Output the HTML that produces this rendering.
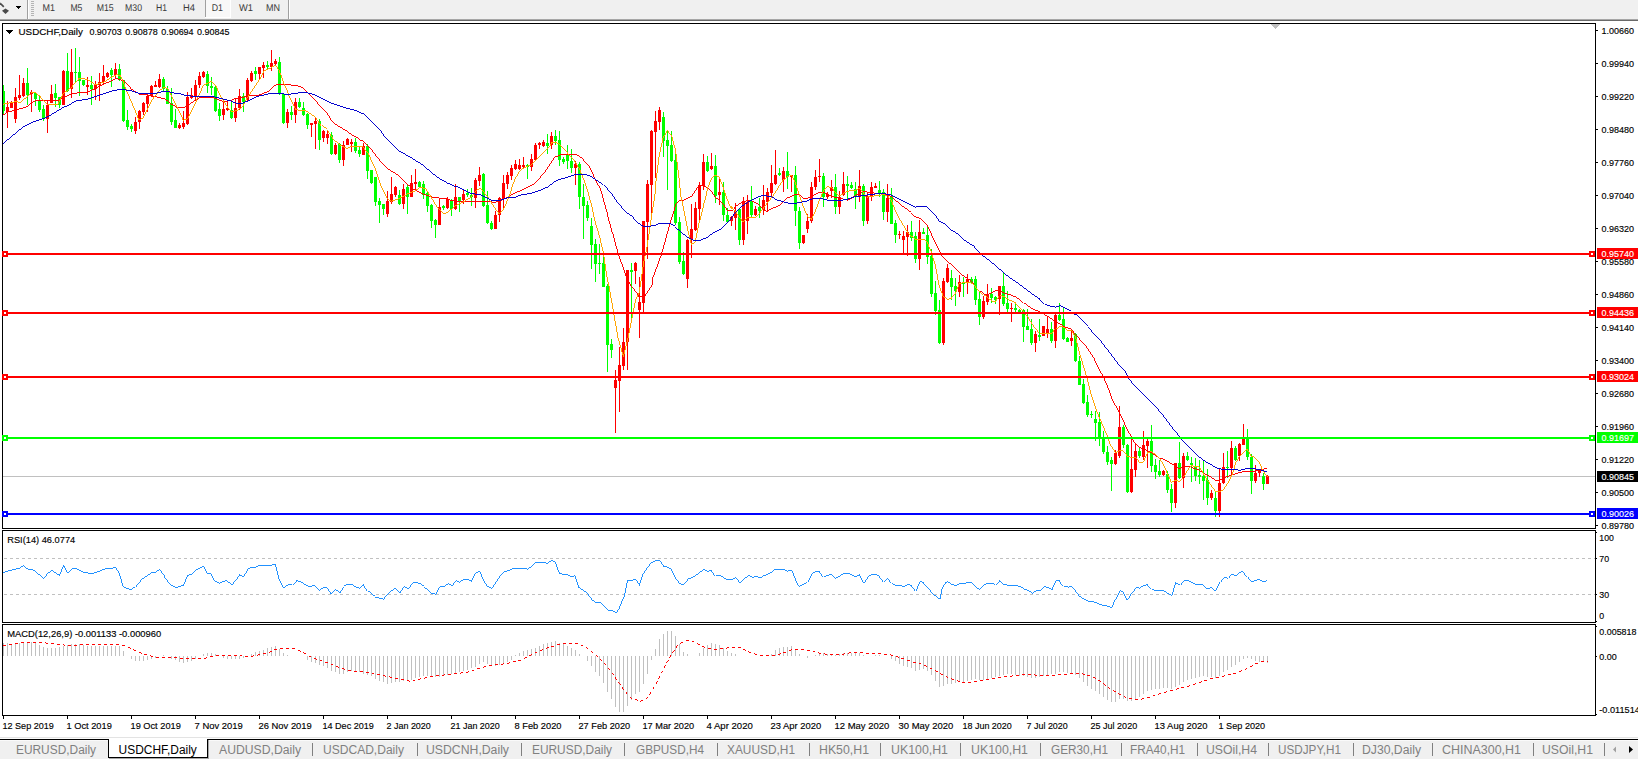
<!DOCTYPE html><html><head><meta charset="utf-8"><title>USDCHF,Daily</title><style>html,body{margin:0;padding:0;background:#fff;overflow:hidden}body{width:1638px;height:759px;position:relative;font-family:"Liberation Sans",sans-serif}</style></head><body><svg width="1638" height="759" viewBox="0 0 1638 759" shape-rendering="crispEdges" font-family="Liberation Sans, sans-serif" style="position:absolute;left:0;top:0">
<rect x="0" y="0" width="1638" height="759" fill="#f0f0f0"/>
<rect x="0" y="21" width="1638" height="717" fill="#ffffff"/>
<rect x="0" y="19" width="1639" height="1" fill="#a6a6a6"/>
<rect x="0" y="20" width="1639" height="1" fill="#696969"/>
<g shape-rendering="auto"><path d="M0 3.2 L3.8 6.8" stroke="#4a4a4a" stroke-width="1.7" fill="none"/><path d="M5.5 8.6 L9 10.8 L5.5 14 L2 10.8 Z" fill="#4a4a4a"/></g>
<rect x="16" y="6" width="5" height="1" fill="#000"/>
<rect x="17" y="7" width="3" height="1" fill="#000"/>
<rect x="18" y="8" width="1" height="1" fill="#000"/>
<rect x="27" y="0" width="1" height="19" fill="#a0a0a0"/>
<rect x="28" y="0" width="1" height="19" fill="#ffffff"/>
<rect x="31" y="1" width="3" height="1" fill="#b4b4b4"/>
<rect x="31" y="3" width="3" height="1" fill="#b4b4b4"/>
<rect x="31" y="5" width="3" height="1" fill="#b4b4b4"/>
<rect x="31" y="7" width="3" height="1" fill="#b4b4b4"/>
<rect x="31" y="9" width="3" height="1" fill="#b4b4b4"/>
<rect x="31" y="11" width="3" height="1" fill="#b4b4b4"/>
<rect x="31" y="13" width="3" height="1" fill="#b4b4b4"/>
<rect x="31" y="15" width="3" height="1" fill="#b4b4b4"/>
<rect x="205" y="0" width="26" height="17" fill="#f8f8f8"/>
<rect x="205" y="0" width="1" height="17" fill="#a0a0a0"/>
<rect x="205" y="17" width="26" height="1" fill="#ffffff"/>
<rect x="230" y="0" width="1" height="18" fill="#ffffff"/>
<rect x="288" y="0" width="1" height="19" fill="#a0a0a0"/>
<rect x="289" y="0" width="1" height="19" fill="#ffffff"/>
<g shape-rendering="auto" text-rendering="geometricPrecision">
<text x="42.5" y="11.0" font-size="9.8" fill="#3a3a3a" stroke="#3a3a3a" stroke-width="0" textLength="12.5" lengthAdjust="spacingAndGlyphs">M1</text>
<text x="70.4" y="11.0" font-size="9.8" fill="#3a3a3a" stroke="#3a3a3a" stroke-width="0" textLength="12.0" lengthAdjust="spacingAndGlyphs">M5</text>
<text x="96.7" y="11.0" font-size="9.8" fill="#3a3a3a" stroke="#3a3a3a" stroke-width="0" textLength="17.0" lengthAdjust="spacingAndGlyphs">M15</text>
<text x="125" y="11.0" font-size="9.8" fill="#3a3a3a" stroke="#3a3a3a" stroke-width="0" textLength="17.0" lengthAdjust="spacingAndGlyphs">M30</text>
<text x="156" y="11.0" font-size="9.8" fill="#3a3a3a" stroke="#3a3a3a" stroke-width="0" textLength="11.0" lengthAdjust="spacingAndGlyphs">H1</text>
<text x="183" y="11.0" font-size="9.8" fill="#3a3a3a" stroke="#3a3a3a" stroke-width="0" textLength="12.0" lengthAdjust="spacingAndGlyphs">H4</text>
<text x="211.7" y="11.0" font-size="9.8" fill="#3a3a3a" stroke="#3a3a3a" stroke-width="0" textLength="11.3" lengthAdjust="spacingAndGlyphs">D1</text>
<text x="239" y="11.0" font-size="9.8" fill="#3a3a3a" stroke="#3a3a3a" stroke-width="0" textLength="14.0" lengthAdjust="spacingAndGlyphs">W1</text>
<text x="266" y="11.0" font-size="9.8" fill="#3a3a3a" stroke="#3a3a3a" stroke-width="0" textLength="14.0" lengthAdjust="spacingAndGlyphs">MN</text>
</g>
<rect x="2" y="23" width="1" height="506" fill="#000"/>
<rect x="2" y="530" width="1" height="93" fill="#000"/>
<rect x="2" y="624" width="1" height="92" fill="#000"/>
<rect x="2" y="23" width="1594" height="1" fill="#000"/>
<rect x="1595" y="23" width="1" height="506" fill="#000"/>
<rect x="1595" y="530" width="1" height="93" fill="#000"/>
<rect x="1595" y="624" width="1" height="92" fill="#000"/>
<rect x="2" y="528" width="1594" height="1" fill="#000"/>
<rect x="2" y="530" width="1594" height="1" fill="#000"/>
<rect x="2" y="622" width="1594" height="1" fill="#000"/>
<rect x="2" y="624" width="1594" height="1" fill="#000"/>
<rect x="2" y="715" width="1594" height="1" fill="#000"/>
<rect x="1596" y="532" width="1" height="1" fill="#000"/>
<rect x="1596" y="558" width="1" height="1" fill="#000"/>
<rect x="1596" y="594" width="1" height="1" fill="#000"/>
<rect x="1596" y="621" width="1" height="1" fill="#000"/>
<rect x="1596" y="626" width="1" height="1" fill="#000"/>
<rect x="1596" y="656" width="1" height="1" fill="#000"/>
<rect x="1596" y="714" width="1" height="1" fill="#000"/>
<rect x="1271" y="24" width="9" height="1" fill="#c0c0c0"/>
<rect x="1272" y="25" width="7" height="1" fill="#c0c0c0"/>
<rect x="1273" y="26" width="5" height="1" fill="#c0c0c0"/>
<rect x="1274" y="27" width="3" height="1" fill="#c0c0c0"/>
<rect x="1275" y="28" width="1" height="1" fill="#c0c0c0"/>
<g shape-rendering="auto">
<rect x="1596" y="30" width="2" height="1" fill="#000"/>
<text x="1601.5" y="34.0" font-size="9.8" fill="#000" stroke="#000" stroke-width="0.15" textLength="32.5" lengthAdjust="spacingAndGlyphs">1.00660</text>
<rect x="1596" y="63" width="2" height="1" fill="#000"/>
<text x="1601.5" y="67.0" font-size="9.8" fill="#000" stroke="#000" stroke-width="0.15" textLength="32.5" lengthAdjust="spacingAndGlyphs">0.99940</text>
<rect x="1596" y="96" width="2" height="1" fill="#000"/>
<text x="1601.5" y="100.0" font-size="9.8" fill="#000" stroke="#000" stroke-width="0.15" textLength="32.5" lengthAdjust="spacingAndGlyphs">0.99220</text>
<rect x="1596" y="129" width="2" height="1" fill="#000"/>
<text x="1601.5" y="133.0" font-size="9.8" fill="#000" stroke="#000" stroke-width="0.15" textLength="32.5" lengthAdjust="spacingAndGlyphs">0.98480</text>
<rect x="1596" y="162" width="2" height="1" fill="#000"/>
<text x="1601.5" y="166.0" font-size="9.8" fill="#000" stroke="#000" stroke-width="0.15" textLength="32.5" lengthAdjust="spacingAndGlyphs">0.97760</text>
<rect x="1596" y="195" width="2" height="1" fill="#000"/>
<text x="1601.5" y="199.0" font-size="9.8" fill="#000" stroke="#000" stroke-width="0.15" textLength="32.5" lengthAdjust="spacingAndGlyphs">0.97040</text>
<rect x="1596" y="228" width="2" height="1" fill="#000"/>
<text x="1601.5" y="232.0" font-size="9.8" fill="#000" stroke="#000" stroke-width="0.15" textLength="32.5" lengthAdjust="spacingAndGlyphs">0.96320</text>
<rect x="1596" y="261" width="2" height="1" fill="#000"/>
<text x="1601.5" y="265.0" font-size="9.8" fill="#000" stroke="#000" stroke-width="0.15" textLength="32.5" lengthAdjust="spacingAndGlyphs">0.95580</text>
<rect x="1596" y="294" width="2" height="1" fill="#000"/>
<text x="1601.5" y="298.0" font-size="9.8" fill="#000" stroke="#000" stroke-width="0.15" textLength="32.5" lengthAdjust="spacingAndGlyphs">0.94860</text>
<rect x="1596" y="327" width="2" height="1" fill="#000"/>
<text x="1601.5" y="331.0" font-size="9.8" fill="#000" stroke="#000" stroke-width="0.15" textLength="32.5" lengthAdjust="spacingAndGlyphs">0.94140</text>
<rect x="1596" y="360" width="2" height="1" fill="#000"/>
<text x="1601.5" y="364.0" font-size="9.8" fill="#000" stroke="#000" stroke-width="0.15" textLength="32.5" lengthAdjust="spacingAndGlyphs">0.93400</text>
<rect x="1596" y="393" width="2" height="1" fill="#000"/>
<text x="1601.5" y="397.0" font-size="9.8" fill="#000" stroke="#000" stroke-width="0.15" textLength="32.5" lengthAdjust="spacingAndGlyphs">0.92680</text>
<rect x="1596" y="426" width="2" height="1" fill="#000"/>
<text x="1601.5" y="430.0" font-size="9.8" fill="#000" stroke="#000" stroke-width="0.15" textLength="32.5" lengthAdjust="spacingAndGlyphs">0.91960</text>
<rect x="1596" y="459" width="2" height="1" fill="#000"/>
<text x="1601.5" y="463.0" font-size="9.8" fill="#000" stroke="#000" stroke-width="0.15" textLength="32.5" lengthAdjust="spacingAndGlyphs">0.91220</text>
<rect x="1596" y="492" width="2" height="1" fill="#000"/>
<text x="1601.5" y="496.0" font-size="9.8" fill="#000" stroke="#000" stroke-width="0.15" textLength="32.5" lengthAdjust="spacingAndGlyphs">0.90500</text>
<rect x="1596" y="525" width="2" height="1" fill="#000"/>
<text x="1601.5" y="529.0" font-size="9.8" fill="#000" stroke="#000" stroke-width="0.15" textLength="32.5" lengthAdjust="spacingAndGlyphs">0.89780</text>
</g>
<rect x="3" y="476" width="1592" height="1" fill="#c0c0c0"/>
<rect x="3" y="85" width="1" height="30" fill="#00ff00"/>
<rect x="3" y="91" width="2" height="20" fill="#00ff00"/>
<rect x="7" y="101" width="1" height="27" fill="#ff0000"/>
<rect x="6" y="107" width="3" height="5" fill="#ff0000"/>
<rect x="11" y="101" width="1" height="7" fill="#ff0000"/>
<rect x="10" y="103" width="3" height="5" fill="#ff0000"/>
<rect x="15" y="88" width="1" height="35" fill="#ff0000"/>
<rect x="14" y="97" width="3" height="22" fill="#ff0000"/>
<rect x="19" y="75" width="1" height="25" fill="#ff0000"/>
<rect x="18" y="95" width="3" height="3" fill="#ff0000"/>
<rect x="23" y="78" width="1" height="19" fill="#ff0000"/>
<rect x="22" y="83" width="3" height="13" fill="#ff0000"/>
<rect x="27" y="68" width="1" height="37" fill="#00ff00"/>
<rect x="26" y="83" width="3" height="12" fill="#00ff00"/>
<rect x="31" y="90" width="1" height="22" fill="#ff0000"/>
<rect x="30" y="92" width="3" height="2" fill="#ff0000"/>
<rect x="35" y="92" width="1" height="14" fill="#00ff00"/>
<rect x="34" y="93" width="3" height="6" fill="#00ff00"/>
<rect x="39" y="96" width="1" height="16" fill="#00ff00"/>
<rect x="38" y="100" width="3" height="10" fill="#00ff00"/>
<rect x="43" y="105" width="1" height="16" fill="#00ff00"/>
<rect x="42" y="109" width="3" height="9" fill="#00ff00"/>
<rect x="47" y="101" width="1" height="32" fill="#ff0000"/>
<rect x="46" y="105" width="3" height="14" fill="#ff0000"/>
<rect x="51" y="85" width="1" height="18" fill="#ff0000"/>
<rect x="50" y="94" width="3" height="9" fill="#ff0000"/>
<rect x="55" y="84" width="1" height="23" fill="#00ff00"/>
<rect x="54" y="93" width="3" height="5" fill="#00ff00"/>
<rect x="59" y="97" width="1" height="11" fill="#00ff00"/>
<rect x="58" y="97" width="3" height="8" fill="#00ff00"/>
<rect x="63" y="70" width="1" height="35" fill="#ff0000"/>
<rect x="62" y="71" width="3" height="34" fill="#ff0000"/>
<rect x="67" y="53" width="1" height="39" fill="#00ff00"/>
<rect x="66" y="71" width="3" height="20" fill="#00ff00"/>
<rect x="71" y="49" width="1" height="49" fill="#ff0000"/>
<rect x="70" y="72" width="3" height="17" fill="#ff0000"/>
<rect x="75" y="48" width="1" height="34" fill="#00ff00"/>
<rect x="74" y="72" width="3" height="1" fill="#00ff00"/>
<rect x="79" y="57" width="1" height="39" fill="#00ff00"/>
<rect x="78" y="72" width="3" height="9" fill="#00ff00"/>
<rect x="83" y="80" width="1" height="6" fill="#00ff00"/>
<rect x="82" y="80" width="3" height="5" fill="#00ff00"/>
<rect x="87" y="77" width="1" height="18" fill="#ff0000"/>
<rect x="86" y="85" width="3" height="2" fill="#ff0000"/>
<rect x="91" y="76" width="1" height="29" fill="#00ff00"/>
<rect x="90" y="85" width="3" height="4" fill="#00ff00"/>
<rect x="95" y="81" width="1" height="19" fill="#ff0000"/>
<rect x="94" y="84" width="3" height="5" fill="#ff0000"/>
<rect x="99" y="73" width="1" height="28" fill="#ff0000"/>
<rect x="98" y="82" width="3" height="3" fill="#ff0000"/>
<rect x="103" y="65" width="1" height="19" fill="#ff0000"/>
<rect x="102" y="76" width="3" height="6" fill="#ff0000"/>
<rect x="107" y="72" width="1" height="6" fill="#ff0000"/>
<rect x="106" y="73" width="3" height="4" fill="#ff0000"/>
<rect x="111" y="68" width="1" height="19" fill="#00ff00"/>
<rect x="110" y="70" width="3" height="5" fill="#00ff00"/>
<rect x="115" y="63" width="1" height="16" fill="#ff0000"/>
<rect x="114" y="69" width="3" height="6" fill="#ff0000"/>
<rect x="119" y="64" width="1" height="17" fill="#00ff00"/>
<rect x="118" y="69" width="3" height="11" fill="#00ff00"/>
<rect x="123" y="80" width="1" height="42" fill="#00ff00"/>
<rect x="122" y="80" width="3" height="41" fill="#00ff00"/>
<rect x="127" y="110" width="1" height="20" fill="#00ff00"/>
<rect x="126" y="120" width="3" height="7" fill="#00ff00"/>
<rect x="131" y="124" width="1" height="8" fill="#00ff00"/>
<rect x="130" y="126" width="3" height="3" fill="#00ff00"/>
<rect x="135" y="117" width="1" height="17" fill="#ff0000"/>
<rect x="134" y="122" width="3" height="9" fill="#ff0000"/>
<rect x="139" y="110" width="1" height="19" fill="#ff0000"/>
<rect x="138" y="111" width="3" height="11" fill="#ff0000"/>
<rect x="143" y="102" width="1" height="13" fill="#ff0000"/>
<rect x="142" y="103" width="3" height="9" fill="#ff0000"/>
<rect x="147" y="94" width="1" height="18" fill="#ff0000"/>
<rect x="146" y="96" width="3" height="8" fill="#ff0000"/>
<rect x="151" y="85" width="1" height="12" fill="#ff0000"/>
<rect x="150" y="86" width="3" height="10" fill="#ff0000"/>
<rect x="155" y="81" width="1" height="6" fill="#ff0000"/>
<rect x="154" y="85" width="3" height="2" fill="#ff0000"/>
<rect x="159" y="74" width="1" height="14" fill="#ff0000"/>
<rect x="158" y="79" width="3" height="8" fill="#ff0000"/>
<rect x="163" y="77" width="1" height="14" fill="#00ff00"/>
<rect x="162" y="79" width="3" height="10" fill="#00ff00"/>
<rect x="167" y="86" width="1" height="18" fill="#00ff00"/>
<rect x="166" y="89" width="3" height="15" fill="#00ff00"/>
<rect x="171" y="88" width="1" height="37" fill="#00ff00"/>
<rect x="170" y="103" width="3" height="19" fill="#00ff00"/>
<rect x="175" y="109" width="1" height="19" fill="#00ff00"/>
<rect x="174" y="120" width="3" height="8" fill="#00ff00"/>
<rect x="179" y="123" width="1" height="6" fill="#ff0000"/>
<rect x="178" y="125" width="3" height="3" fill="#ff0000"/>
<rect x="183" y="111" width="1" height="18" fill="#ff0000"/>
<rect x="182" y="123" width="3" height="4" fill="#ff0000"/>
<rect x="187" y="92" width="1" height="33" fill="#ff0000"/>
<rect x="186" y="97" width="3" height="27" fill="#ff0000"/>
<rect x="191" y="88" width="1" height="11" fill="#ff0000"/>
<rect x="190" y="95" width="3" height="3" fill="#ff0000"/>
<rect x="195" y="80" width="1" height="21" fill="#ff0000"/>
<rect x="194" y="85" width="3" height="12" fill="#ff0000"/>
<rect x="199" y="72" width="1" height="16" fill="#ff0000"/>
<rect x="198" y="76" width="3" height="9" fill="#ff0000"/>
<rect x="203" y="71" width="1" height="7" fill="#ff0000"/>
<rect x="202" y="72" width="3" height="5" fill="#ff0000"/>
<rect x="207" y="71" width="1" height="22" fill="#00ff00"/>
<rect x="206" y="74" width="3" height="12" fill="#00ff00"/>
<rect x="211" y="77" width="1" height="18" fill="#00ff00"/>
<rect x="210" y="86" width="3" height="2" fill="#00ff00"/>
<rect x="215" y="85" width="1" height="27" fill="#00ff00"/>
<rect x="214" y="87" width="3" height="24" fill="#00ff00"/>
<rect x="219" y="103" width="1" height="18" fill="#00ff00"/>
<rect x="218" y="109" width="3" height="7" fill="#00ff00"/>
<rect x="223" y="102" width="1" height="18" fill="#ff0000"/>
<rect x="222" y="109" width="3" height="6" fill="#ff0000"/>
<rect x="227" y="101" width="1" height="10" fill="#ff0000"/>
<rect x="226" y="108" width="3" height="2" fill="#ff0000"/>
<rect x="231" y="102" width="1" height="17" fill="#00ff00"/>
<rect x="230" y="110" width="3" height="8" fill="#00ff00"/>
<rect x="235" y="98" width="1" height="24" fill="#ff0000"/>
<rect x="234" y="108" width="3" height="10" fill="#ff0000"/>
<rect x="239" y="89" width="1" height="21" fill="#ff0000"/>
<rect x="238" y="96" width="3" height="12" fill="#ff0000"/>
<rect x="243" y="93" width="1" height="19" fill="#00ff00"/>
<rect x="242" y="96" width="3" height="6" fill="#00ff00"/>
<rect x="247" y="78" width="1" height="23" fill="#ff0000"/>
<rect x="246" y="80" width="3" height="20" fill="#ff0000"/>
<rect x="251" y="71" width="1" height="11" fill="#ff0000"/>
<rect x="250" y="73" width="3" height="8" fill="#ff0000"/>
<rect x="255" y="67" width="1" height="13" fill="#00ff00"/>
<rect x="254" y="71" width="3" height="3" fill="#00ff00"/>
<rect x="259" y="67" width="1" height="12" fill="#ff0000"/>
<rect x="258" y="67" width="3" height="7" fill="#ff0000"/>
<rect x="263" y="62" width="1" height="16" fill="#ff0000"/>
<rect x="262" y="65" width="3" height="3" fill="#ff0000"/>
<rect x="267" y="61" width="1" height="8" fill="#00ff00"/>
<rect x="266" y="65" width="3" height="2" fill="#00ff00"/>
<rect x="271" y="50" width="1" height="21" fill="#ff0000"/>
<rect x="270" y="63" width="3" height="4" fill="#ff0000"/>
<rect x="275" y="59" width="1" height="6" fill="#ff0000"/>
<rect x="274" y="61" width="3" height="3" fill="#ff0000"/>
<rect x="279" y="57" width="1" height="38" fill="#00ff00"/>
<rect x="278" y="62" width="3" height="31" fill="#00ff00"/>
<rect x="283" y="93" width="1" height="31" fill="#00ff00"/>
<rect x="282" y="94" width="3" height="29" fill="#00ff00"/>
<rect x="287" y="109" width="1" height="19" fill="#ff0000"/>
<rect x="286" y="112" width="3" height="11" fill="#ff0000"/>
<rect x="291" y="106" width="1" height="14" fill="#00ff00"/>
<rect x="290" y="112" width="3" height="3" fill="#00ff00"/>
<rect x="295" y="98" width="1" height="25" fill="#ff0000"/>
<rect x="294" y="102" width="3" height="13" fill="#ff0000"/>
<rect x="299" y="98" width="1" height="10" fill="#00ff00"/>
<rect x="298" y="102" width="3" height="5" fill="#00ff00"/>
<rect x="303" y="102" width="1" height="14" fill="#00ff00"/>
<rect x="302" y="108" width="3" height="7" fill="#00ff00"/>
<rect x="307" y="113" width="1" height="16" fill="#00ff00"/>
<rect x="306" y="114" width="3" height="11" fill="#00ff00"/>
<rect x="311" y="123" width="1" height="14" fill="#ff0000"/>
<rect x="310" y="123" width="3" height="2" fill="#ff0000"/>
<rect x="315" y="118" width="1" height="31" fill="#ff0000"/>
<rect x="314" y="121" width="3" height="3" fill="#ff0000"/>
<rect x="319" y="119" width="1" height="31" fill="#00ff00"/>
<rect x="318" y="121" width="3" height="19" fill="#00ff00"/>
<rect x="323" y="130" width="1" height="12" fill="#ff0000"/>
<rect x="322" y="131" width="3" height="7" fill="#ff0000"/>
<rect x="327" y="130" width="1" height="14" fill="#ff0000"/>
<rect x="326" y="134" width="3" height="4" fill="#ff0000"/>
<rect x="331" y="132" width="1" height="23" fill="#00ff00"/>
<rect x="330" y="135" width="3" height="19" fill="#00ff00"/>
<rect x="335" y="143" width="1" height="12" fill="#ff0000"/>
<rect x="334" y="145" width="3" height="9" fill="#ff0000"/>
<rect x="339" y="143" width="1" height="20" fill="#00ff00"/>
<rect x="338" y="144" width="3" height="16" fill="#00ff00"/>
<rect x="343" y="141" width="1" height="25" fill="#ff0000"/>
<rect x="342" y="145" width="3" height="15" fill="#ff0000"/>
<rect x="347" y="138" width="1" height="7" fill="#ff0000"/>
<rect x="346" y="139" width="3" height="6" fill="#ff0000"/>
<rect x="351" y="139" width="1" height="13" fill="#ff0000"/>
<rect x="350" y="142" width="3" height="2" fill="#ff0000"/>
<rect x="355" y="138" width="1" height="15" fill="#00ff00"/>
<rect x="354" y="142" width="3" height="9" fill="#00ff00"/>
<rect x="359" y="147" width="1" height="10" fill="#00ff00"/>
<rect x="358" y="150" width="3" height="4" fill="#00ff00"/>
<rect x="363" y="143" width="1" height="12" fill="#ff0000"/>
<rect x="362" y="146" width="3" height="9" fill="#ff0000"/>
<rect x="367" y="144" width="1" height="35" fill="#00ff00"/>
<rect x="366" y="146" width="3" height="25" fill="#00ff00"/>
<rect x="371" y="170" width="1" height="14" fill="#00ff00"/>
<rect x="370" y="170" width="3" height="13" fill="#00ff00"/>
<rect x="375" y="177" width="1" height="29" fill="#00ff00"/>
<rect x="374" y="177" width="3" height="25" fill="#00ff00"/>
<rect x="379" y="198" width="1" height="25" fill="#00ff00"/>
<rect x="378" y="201" width="3" height="4" fill="#00ff00"/>
<rect x="383" y="204" width="1" height="11" fill="#00ff00"/>
<rect x="382" y="204" width="3" height="5" fill="#00ff00"/>
<rect x="387" y="191" width="1" height="26" fill="#ff0000"/>
<rect x="386" y="201" width="3" height="13" fill="#ff0000"/>
<rect x="391" y="177" width="1" height="27" fill="#ff0000"/>
<rect x="390" y="194" width="3" height="8" fill="#ff0000"/>
<rect x="395" y="186" width="1" height="11" fill="#ff0000"/>
<rect x="394" y="187" width="3" height="8" fill="#ff0000"/>
<rect x="399" y="190" width="1" height="15" fill="#00ff00"/>
<rect x="398" y="195" width="3" height="9" fill="#00ff00"/>
<rect x="403" y="184" width="1" height="25" fill="#ff0000"/>
<rect x="402" y="189" width="3" height="15" fill="#ff0000"/>
<rect x="407" y="184" width="1" height="30" fill="#00ff00"/>
<rect x="406" y="187" width="3" height="10" fill="#00ff00"/>
<rect x="411" y="175" width="1" height="22" fill="#ff0000"/>
<rect x="410" y="183" width="3" height="14" fill="#ff0000"/>
<rect x="415" y="169" width="1" height="21" fill="#ff0000"/>
<rect x="414" y="182" width="3" height="2" fill="#ff0000"/>
<rect x="419" y="181" width="1" height="6" fill="#00ff00"/>
<rect x="418" y="182" width="3" height="5" fill="#00ff00"/>
<rect x="423" y="181" width="1" height="18" fill="#00ff00"/>
<rect x="422" y="184" width="3" height="11" fill="#00ff00"/>
<rect x="427" y="191" width="1" height="21" fill="#00ff00"/>
<rect x="426" y="193" width="3" height="13" fill="#00ff00"/>
<rect x="431" y="204" width="1" height="24" fill="#00ff00"/>
<rect x="430" y="205" width="3" height="16" fill="#00ff00"/>
<rect x="435" y="219" width="1" height="19" fill="#00ff00"/>
<rect x="434" y="220" width="3" height="5" fill="#00ff00"/>
<rect x="439" y="199" width="1" height="26" fill="#ff0000"/>
<rect x="438" y="207" width="3" height="18" fill="#ff0000"/>
<rect x="443" y="205" width="1" height="5" fill="#00ff00"/>
<rect x="442" y="206" width="3" height="2" fill="#00ff00"/>
<rect x="447" y="197" width="1" height="12" fill="#ff0000"/>
<rect x="446" y="199" width="3" height="9" fill="#ff0000"/>
<rect x="451" y="199" width="1" height="17" fill="#00ff00"/>
<rect x="450" y="200" width="3" height="9" fill="#00ff00"/>
<rect x="455" y="184" width="1" height="26" fill="#ff0000"/>
<rect x="454" y="197" width="3" height="12" fill="#ff0000"/>
<rect x="459" y="197" width="1" height="15" fill="#00ff00"/>
<rect x="458" y="197" width="3" height="4" fill="#00ff00"/>
<rect x="463" y="190" width="1" height="14" fill="#ff0000"/>
<rect x="462" y="194" width="3" height="6" fill="#ff0000"/>
<rect x="467" y="189" width="1" height="8" fill="#00ff00"/>
<rect x="466" y="193" width="3" height="2" fill="#00ff00"/>
<rect x="471" y="188" width="1" height="18" fill="#00ff00"/>
<rect x="470" y="195" width="3" height="2" fill="#00ff00"/>
<rect x="475" y="178" width="1" height="30" fill="#ff0000"/>
<rect x="474" y="180" width="3" height="18" fill="#ff0000"/>
<rect x="479" y="167" width="1" height="19" fill="#ff0000"/>
<rect x="478" y="175" width="3" height="6" fill="#ff0000"/>
<rect x="483" y="173" width="1" height="34" fill="#00ff00"/>
<rect x="482" y="174" width="3" height="32" fill="#00ff00"/>
<rect x="487" y="191" width="1" height="33" fill="#00ff00"/>
<rect x="486" y="205" width="3" height="18" fill="#00ff00"/>
<rect x="491" y="221" width="1" height="9" fill="#00ff00"/>
<rect x="490" y="223" width="3" height="6" fill="#00ff00"/>
<rect x="495" y="211" width="1" height="18" fill="#ff0000"/>
<rect x="494" y="215" width="3" height="14" fill="#ff0000"/>
<rect x="499" y="197" width="1" height="25" fill="#ff0000"/>
<rect x="498" y="198" width="3" height="17" fill="#ff0000"/>
<rect x="503" y="175" width="1" height="33" fill="#ff0000"/>
<rect x="502" y="183" width="3" height="16" fill="#ff0000"/>
<rect x="507" y="172" width="1" height="17" fill="#ff0000"/>
<rect x="506" y="175" width="3" height="9" fill="#ff0000"/>
<rect x="511" y="165" width="1" height="15" fill="#ff0000"/>
<rect x="510" y="168" width="3" height="8" fill="#ff0000"/>
<rect x="515" y="160" width="1" height="10" fill="#ff0000"/>
<rect x="514" y="164" width="3" height="5" fill="#ff0000"/>
<rect x="519" y="159" width="1" height="11" fill="#ff0000"/>
<rect x="518" y="165" width="3" height="4" fill="#ff0000"/>
<rect x="523" y="157" width="1" height="11" fill="#ff0000"/>
<rect x="522" y="165" width="3" height="2" fill="#ff0000"/>
<rect x="527" y="164" width="1" height="15" fill="#00ff00"/>
<rect x="526" y="165" width="3" height="2" fill="#00ff00"/>
<rect x="531" y="154" width="1" height="17" fill="#ff0000"/>
<rect x="530" y="159" width="3" height="8" fill="#ff0000"/>
<rect x="535" y="143" width="1" height="17" fill="#ff0000"/>
<rect x="534" y="145" width="3" height="15" fill="#ff0000"/>
<rect x="539" y="142" width="1" height="7" fill="#ff0000"/>
<rect x="538" y="143" width="3" height="2" fill="#ff0000"/>
<rect x="543" y="140" width="1" height="7" fill="#ff0000"/>
<rect x="542" y="142" width="3" height="4" fill="#ff0000"/>
<rect x="547" y="134" width="1" height="20" fill="#00ff00"/>
<rect x="546" y="143" width="3" height="3" fill="#00ff00"/>
<rect x="551" y="132" width="1" height="17" fill="#ff0000"/>
<rect x="550" y="136" width="3" height="9" fill="#ff0000"/>
<rect x="555" y="130" width="1" height="15" fill="#00ff00"/>
<rect x="554" y="136" width="3" height="5" fill="#00ff00"/>
<rect x="559" y="131" width="1" height="35" fill="#00ff00"/>
<rect x="558" y="140" width="3" height="20" fill="#00ff00"/>
<rect x="563" y="157" width="1" height="7" fill="#00ff00"/>
<rect x="562" y="159" width="3" height="3" fill="#00ff00"/>
<rect x="567" y="145" width="1" height="24" fill="#00ff00"/>
<rect x="566" y="155" width="3" height="6" fill="#00ff00"/>
<rect x="571" y="149" width="1" height="24" fill="#00ff00"/>
<rect x="570" y="161" width="3" height="7" fill="#00ff00"/>
<rect x="575" y="161" width="1" height="24" fill="#ff0000"/>
<rect x="574" y="164" width="3" height="4" fill="#ff0000"/>
<rect x="579" y="162" width="1" height="47" fill="#00ff00"/>
<rect x="578" y="164" width="3" height="33" fill="#00ff00"/>
<rect x="583" y="184" width="1" height="55" fill="#00ff00"/>
<rect x="582" y="197" width="3" height="9" fill="#00ff00"/>
<rect x="587" y="201" width="1" height="20" fill="#00ff00"/>
<rect x="586" y="205" width="3" height="13" fill="#00ff00"/>
<rect x="591" y="218" width="1" height="51" fill="#00ff00"/>
<rect x="590" y="226" width="3" height="19" fill="#00ff00"/>
<rect x="595" y="239" width="1" height="43" fill="#00ff00"/>
<rect x="594" y="244" width="3" height="20" fill="#00ff00"/>
<rect x="599" y="244" width="1" height="30" fill="#00ff00"/>
<rect x="598" y="263" width="3" height="1" fill="#00ff00"/>
<rect x="603" y="252" width="1" height="35" fill="#00ff00"/>
<rect x="602" y="263" width="3" height="24" fill="#00ff00"/>
<rect x="607" y="284" width="1" height="88" fill="#00ff00"/>
<rect x="606" y="286" width="3" height="59" fill="#00ff00"/>
<rect x="611" y="339" width="1" height="19" fill="#00ff00"/>
<rect x="610" y="344" width="3" height="6" fill="#00ff00"/>
<rect x="615" y="370" width="1" height="63" fill="#ff0000"/>
<rect x="614" y="380" width="3" height="8" fill="#ff0000"/>
<rect x="619" y="347" width="1" height="65" fill="#ff0000"/>
<rect x="618" y="365" width="3" height="16" fill="#ff0000"/>
<rect x="623" y="328" width="1" height="42" fill="#ff0000"/>
<rect x="622" y="342" width="3" height="24" fill="#ff0000"/>
<rect x="627" y="270" width="1" height="100" fill="#ff0000"/>
<rect x="626" y="270" width="3" height="72" fill="#ff0000"/>
<rect x="631" y="263" width="1" height="60" fill="#00ff00"/>
<rect x="630" y="270" width="3" height="2" fill="#00ff00"/>
<rect x="635" y="262" width="1" height="22" fill="#ff0000"/>
<rect x="634" y="263" width="3" height="8" fill="#ff0000"/>
<rect x="639" y="277" width="1" height="61" fill="#ff0000"/>
<rect x="638" y="302" width="3" height="8" fill="#ff0000"/>
<rect x="643" y="221" width="1" height="92" fill="#ff0000"/>
<rect x="642" y="221" width="3" height="82" fill="#ff0000"/>
<rect x="647" y="180" width="1" height="79" fill="#ff0000"/>
<rect x="646" y="184" width="3" height="38" fill="#ff0000"/>
<rect x="651" y="130" width="1" height="87" fill="#ff0000"/>
<rect x="650" y="131" width="3" height="54" fill="#ff0000"/>
<rect x="655" y="111" width="1" height="67" fill="#ff0000"/>
<rect x="654" y="121" width="3" height="11" fill="#ff0000"/>
<rect x="659" y="107" width="1" height="23" fill="#ff0000"/>
<rect x="658" y="110" width="3" height="12" fill="#ff0000"/>
<rect x="663" y="112" width="1" height="45" fill="#00ff00"/>
<rect x="662" y="117" width="3" height="24" fill="#00ff00"/>
<rect x="667" y="130" width="1" height="60" fill="#00ff00"/>
<rect x="666" y="140" width="3" height="6" fill="#00ff00"/>
<rect x="671" y="131" width="1" height="31" fill="#00ff00"/>
<rect x="670" y="145" width="3" height="16" fill="#00ff00"/>
<rect x="675" y="152" width="1" height="73" fill="#00ff00"/>
<rect x="674" y="160" width="3" height="63" fill="#00ff00"/>
<rect x="679" y="217" width="1" height="47" fill="#00ff00"/>
<rect x="678" y="222" width="3" height="40" fill="#00ff00"/>
<rect x="683" y="252" width="1" height="23" fill="#00ff00"/>
<rect x="682" y="261" width="3" height="13" fill="#00ff00"/>
<rect x="687" y="239" width="1" height="49" fill="#ff0000"/>
<rect x="686" y="240" width="3" height="39" fill="#ff0000"/>
<rect x="691" y="204" width="1" height="54" fill="#ff0000"/>
<rect x="690" y="229" width="3" height="11" fill="#ff0000"/>
<rect x="695" y="202" width="1" height="29" fill="#ff0000"/>
<rect x="694" y="208" width="3" height="22" fill="#ff0000"/>
<rect x="699" y="182" width="1" height="40" fill="#ff0000"/>
<rect x="698" y="185" width="3" height="24" fill="#ff0000"/>
<rect x="703" y="154" width="1" height="36" fill="#ff0000"/>
<rect x="702" y="162" width="3" height="24" fill="#ff0000"/>
<rect x="707" y="156" width="1" height="16" fill="#00ff00"/>
<rect x="706" y="162" width="3" height="9" fill="#00ff00"/>
<rect x="711" y="153" width="1" height="17" fill="#ff0000"/>
<rect x="710" y="166" width="3" height="3" fill="#ff0000"/>
<rect x="715" y="155" width="1" height="48" fill="#00ff00"/>
<rect x="714" y="166" width="3" height="30" fill="#00ff00"/>
<rect x="719" y="179" width="1" height="26" fill="#ff0000"/>
<rect x="718" y="192" width="3" height="3" fill="#ff0000"/>
<rect x="723" y="182" width="1" height="39" fill="#00ff00"/>
<rect x="722" y="192" width="3" height="23" fill="#00ff00"/>
<rect x="727" y="208" width="1" height="15" fill="#00ff00"/>
<rect x="726" y="215" width="3" height="7" fill="#00ff00"/>
<rect x="731" y="216" width="1" height="10" fill="#ff0000"/>
<rect x="730" y="217" width="3" height="4" fill="#ff0000"/>
<rect x="735" y="203" width="1" height="27" fill="#ff0000"/>
<rect x="734" y="211" width="3" height="7" fill="#ff0000"/>
<rect x="739" y="208" width="1" height="37" fill="#00ff00"/>
<rect x="738" y="209" width="3" height="31" fill="#00ff00"/>
<rect x="743" y="197" width="1" height="48" fill="#ff0000"/>
<rect x="742" y="201" width="3" height="39" fill="#ff0000"/>
<rect x="747" y="195" width="1" height="39" fill="#ff0000"/>
<rect x="746" y="202" width="3" height="19" fill="#ff0000"/>
<rect x="751" y="186" width="1" height="31" fill="#00ff00"/>
<rect x="750" y="201" width="3" height="14" fill="#00ff00"/>
<rect x="755" y="206" width="1" height="10" fill="#ff0000"/>
<rect x="754" y="209" width="3" height="6" fill="#ff0000"/>
<rect x="759" y="198" width="1" height="20" fill="#00ff00"/>
<rect x="758" y="207" width="3" height="4" fill="#00ff00"/>
<rect x="763" y="185" width="1" height="30" fill="#ff0000"/>
<rect x="762" y="200" width="3" height="10" fill="#ff0000"/>
<rect x="767" y="188" width="1" height="24" fill="#ff0000"/>
<rect x="766" y="192" width="3" height="10" fill="#ff0000"/>
<rect x="771" y="165" width="1" height="31" fill="#ff0000"/>
<rect x="770" y="183" width="3" height="10" fill="#ff0000"/>
<rect x="775" y="150" width="1" height="35" fill="#ff0000"/>
<rect x="774" y="175" width="3" height="9" fill="#ff0000"/>
<rect x="779" y="168" width="1" height="8" fill="#00ff00"/>
<rect x="778" y="173" width="3" height="2" fill="#00ff00"/>
<rect x="783" y="167" width="1" height="25" fill="#ff0000"/>
<rect x="782" y="171" width="3" height="9" fill="#ff0000"/>
<rect x="787" y="152" width="1" height="37" fill="#00ff00"/>
<rect x="786" y="171" width="3" height="6" fill="#00ff00"/>
<rect x="791" y="175" width="1" height="17" fill="#ff0000"/>
<rect x="790" y="175" width="3" height="2" fill="#ff0000"/>
<rect x="795" y="166" width="1" height="60" fill="#00ff00"/>
<rect x="794" y="175" width="3" height="36" fill="#00ff00"/>
<rect x="799" y="207" width="1" height="42" fill="#00ff00"/>
<rect x="798" y="211" width="3" height="32" fill="#00ff00"/>
<rect x="803" y="235" width="1" height="9" fill="#ff0000"/>
<rect x="802" y="235" width="3" height="8" fill="#ff0000"/>
<rect x="807" y="214" width="1" height="19" fill="#ff0000"/>
<rect x="806" y="221" width="3" height="8" fill="#ff0000"/>
<rect x="811" y="182" width="1" height="41" fill="#ff0000"/>
<rect x="810" y="187" width="3" height="34" fill="#ff0000"/>
<rect x="815" y="170" width="1" height="20" fill="#ff0000"/>
<rect x="814" y="177" width="3" height="10" fill="#ff0000"/>
<rect x="819" y="159" width="1" height="23" fill="#ff0000"/>
<rect x="818" y="176" width="3" height="1" fill="#ff0000"/>
<rect x="823" y="173" width="1" height="34" fill="#00ff00"/>
<rect x="822" y="176" width="3" height="21" fill="#00ff00"/>
<rect x="827" y="192" width="1" height="7" fill="#ff0000"/>
<rect x="826" y="194" width="3" height="3" fill="#ff0000"/>
<rect x="831" y="180" width="1" height="18" fill="#ff0000"/>
<rect x="830" y="187" width="3" height="4" fill="#ff0000"/>
<rect x="835" y="174" width="1" height="40" fill="#00ff00"/>
<rect x="834" y="187" width="3" height="20" fill="#00ff00"/>
<rect x="839" y="191" width="1" height="23" fill="#ff0000"/>
<rect x="838" y="197" width="3" height="10" fill="#ff0000"/>
<rect x="843" y="172" width="1" height="24" fill="#ff0000"/>
<rect x="842" y="184" width="3" height="11" fill="#ff0000"/>
<rect x="847" y="176" width="1" height="23" fill="#00ff00"/>
<rect x="846" y="184" width="3" height="2" fill="#00ff00"/>
<rect x="851" y="182" width="1" height="7" fill="#00ff00"/>
<rect x="850" y="185" width="3" height="3" fill="#00ff00"/>
<rect x="855" y="182" width="1" height="27" fill="#00ff00"/>
<rect x="854" y="189" width="3" height="8" fill="#00ff00"/>
<rect x="859" y="170" width="1" height="32" fill="#ff0000"/>
<rect x="858" y="186" width="3" height="11" fill="#ff0000"/>
<rect x="863" y="184" width="1" height="42" fill="#00ff00"/>
<rect x="862" y="186" width="3" height="35" fill="#00ff00"/>
<rect x="867" y="192" width="1" height="32" fill="#ff0000"/>
<rect x="866" y="196" width="3" height="25" fill="#ff0000"/>
<rect x="871" y="182" width="1" height="19" fill="#ff0000"/>
<rect x="870" y="187" width="3" height="9" fill="#ff0000"/>
<rect x="875" y="183" width="1" height="5" fill="#ff0000"/>
<rect x="874" y="186" width="3" height="2" fill="#ff0000"/>
<rect x="879" y="181" width="1" height="16" fill="#00ff00"/>
<rect x="878" y="190" width="3" height="3" fill="#00ff00"/>
<rect x="883" y="189" width="1" height="31" fill="#00ff00"/>
<rect x="882" y="192" width="3" height="20" fill="#00ff00"/>
<rect x="887" y="184" width="1" height="38" fill="#ff0000"/>
<rect x="886" y="198" width="3" height="14" fill="#ff0000"/>
<rect x="891" y="188" width="1" height="36" fill="#00ff00"/>
<rect x="890" y="196" width="3" height="28" fill="#00ff00"/>
<rect x="895" y="220" width="1" height="23" fill="#00ff00"/>
<rect x="894" y="223" width="3" height="12" fill="#00ff00"/>
<rect x="899" y="231" width="1" height="8" fill="#ff0000"/>
<rect x="898" y="234" width="3" height="1" fill="#ff0000"/>
<rect x="903" y="231" width="1" height="22" fill="#ff0000"/>
<rect x="902" y="236" width="3" height="4" fill="#ff0000"/>
<rect x="907" y="225" width="1" height="31" fill="#ff0000"/>
<rect x="906" y="232" width="3" height="5" fill="#ff0000"/>
<rect x="911" y="221" width="1" height="20" fill="#00ff00"/>
<rect x="910" y="232" width="3" height="6" fill="#00ff00"/>
<rect x="915" y="232" width="1" height="31" fill="#00ff00"/>
<rect x="914" y="236" width="3" height="23" fill="#00ff00"/>
<rect x="919" y="220" width="1" height="50" fill="#ff0000"/>
<rect x="918" y="232" width="3" height="27" fill="#ff0000"/>
<rect x="923" y="228" width="1" height="6" fill="#00ff00"/>
<rect x="922" y="232" width="3" height="2" fill="#00ff00"/>
<rect x="927" y="225" width="1" height="39" fill="#00ff00"/>
<rect x="926" y="235" width="3" height="22" fill="#00ff00"/>
<rect x="931" y="249" width="1" height="48" fill="#00ff00"/>
<rect x="930" y="256" width="3" height="38" fill="#00ff00"/>
<rect x="935" y="281" width="1" height="34" fill="#00ff00"/>
<rect x="934" y="293" width="3" height="18" fill="#00ff00"/>
<rect x="939" y="300" width="1" height="44" fill="#00ff00"/>
<rect x="938" y="310" width="3" height="33" fill="#00ff00"/>
<rect x="943" y="278" width="1" height="67" fill="#ff0000"/>
<rect x="942" y="281" width="3" height="62" fill="#ff0000"/>
<rect x="947" y="264" width="1" height="19" fill="#ff0000"/>
<rect x="946" y="268" width="3" height="14" fill="#ff0000"/>
<rect x="951" y="270" width="1" height="30" fill="#00ff00"/>
<rect x="950" y="278" width="3" height="9" fill="#00ff00"/>
<rect x="955" y="278" width="1" height="28" fill="#00ff00"/>
<rect x="954" y="286" width="3" height="5" fill="#00ff00"/>
<rect x="959" y="275" width="1" height="22" fill="#ff0000"/>
<rect x="958" y="282" width="3" height="10" fill="#ff0000"/>
<rect x="963" y="277" width="1" height="20" fill="#00ff00"/>
<rect x="962" y="283" width="3" height="1" fill="#00ff00"/>
<rect x="967" y="274" width="1" height="20" fill="#ff0000"/>
<rect x="966" y="279" width="3" height="4" fill="#ff0000"/>
<rect x="971" y="277" width="1" height="7" fill="#00ff00"/>
<rect x="970" y="279" width="3" height="3" fill="#00ff00"/>
<rect x="975" y="276" width="1" height="29" fill="#00ff00"/>
<rect x="974" y="279" width="3" height="21" fill="#00ff00"/>
<rect x="979" y="291" width="1" height="34" fill="#00ff00"/>
<rect x="978" y="299" width="3" height="18" fill="#00ff00"/>
<rect x="983" y="296" width="1" height="23" fill="#ff0000"/>
<rect x="982" y="301" width="3" height="16" fill="#ff0000"/>
<rect x="987" y="284" width="1" height="21" fill="#ff0000"/>
<rect x="986" y="294" width="3" height="8" fill="#ff0000"/>
<rect x="991" y="288" width="1" height="15" fill="#00ff00"/>
<rect x="990" y="294" width="3" height="4" fill="#00ff00"/>
<rect x="995" y="296" width="1" height="8" fill="#00ff00"/>
<rect x="994" y="297" width="3" height="3" fill="#00ff00"/>
<rect x="999" y="286" width="1" height="29" fill="#ff0000"/>
<rect x="998" y="286" width="3" height="13" fill="#ff0000"/>
<rect x="1003" y="272" width="1" height="34" fill="#00ff00"/>
<rect x="1002" y="286" width="3" height="18" fill="#00ff00"/>
<rect x="1007" y="291" width="1" height="21" fill="#00ff00"/>
<rect x="1006" y="303" width="3" height="6" fill="#00ff00"/>
<rect x="1011" y="303" width="1" height="19" fill="#ff0000"/>
<rect x="1010" y="308" width="3" height="1" fill="#ff0000"/>
<rect x="1015" y="303" width="1" height="9" fill="#00ff00"/>
<rect x="1014" y="308" width="3" height="2" fill="#00ff00"/>
<rect x="1019" y="309" width="1" height="4" fill="#00ff00"/>
<rect x="1018" y="310" width="3" height="2" fill="#00ff00"/>
<rect x="1023" y="309" width="1" height="33" fill="#00ff00"/>
<rect x="1022" y="310" width="3" height="17" fill="#00ff00"/>
<rect x="1027" y="309" width="1" height="21" fill="#00ff00"/>
<rect x="1026" y="326" width="3" height="4" fill="#00ff00"/>
<rect x="1031" y="319" width="1" height="26" fill="#00ff00"/>
<rect x="1030" y="329" width="3" height="14" fill="#00ff00"/>
<rect x="1035" y="331" width="1" height="21" fill="#ff0000"/>
<rect x="1034" y="334" width="3" height="9" fill="#ff0000"/>
<rect x="1039" y="319" width="1" height="22" fill="#00ff00"/>
<rect x="1038" y="335" width="3" height="2" fill="#00ff00"/>
<rect x="1043" y="326" width="1" height="10" fill="#ff0000"/>
<rect x="1042" y="326" width="3" height="10" fill="#ff0000"/>
<rect x="1047" y="316" width="1" height="22" fill="#ff0000"/>
<rect x="1046" y="329" width="3" height="4" fill="#ff0000"/>
<rect x="1051" y="322" width="1" height="21" fill="#00ff00"/>
<rect x="1050" y="329" width="3" height="12" fill="#00ff00"/>
<rect x="1055" y="314" width="1" height="34" fill="#ff0000"/>
<rect x="1054" y="315" width="3" height="26" fill="#ff0000"/>
<rect x="1059" y="303" width="1" height="18" fill="#00ff00"/>
<rect x="1058" y="315" width="3" height="5" fill="#00ff00"/>
<rect x="1063" y="307" width="1" height="33" fill="#00ff00"/>
<rect x="1062" y="319" width="3" height="20" fill="#00ff00"/>
<rect x="1067" y="337" width="1" height="5" fill="#00ff00"/>
<rect x="1066" y="338" width="3" height="4" fill="#00ff00"/>
<rect x="1071" y="331" width="1" height="15" fill="#ff0000"/>
<rect x="1070" y="338" width="3" height="3" fill="#ff0000"/>
<rect x="1075" y="333" width="1" height="29" fill="#00ff00"/>
<rect x="1074" y="334" width="3" height="27" fill="#00ff00"/>
<rect x="1079" y="356" width="1" height="29" fill="#00ff00"/>
<rect x="1078" y="361" width="3" height="24" fill="#00ff00"/>
<rect x="1083" y="379" width="1" height="25" fill="#00ff00"/>
<rect x="1082" y="384" width="3" height="19" fill="#00ff00"/>
<rect x="1087" y="395" width="1" height="22" fill="#00ff00"/>
<rect x="1086" y="402" width="3" height="13" fill="#00ff00"/>
<rect x="1091" y="411" width="1" height="7" fill="#00ff00"/>
<rect x="1090" y="414" width="3" height="1" fill="#00ff00"/>
<rect x="1095" y="411" width="1" height="30" fill="#00ff00"/>
<rect x="1094" y="419" width="3" height="4" fill="#00ff00"/>
<rect x="1099" y="412" width="1" height="34" fill="#00ff00"/>
<rect x="1098" y="422" width="3" height="16" fill="#00ff00"/>
<rect x="1103" y="431" width="1" height="23" fill="#00ff00"/>
<rect x="1102" y="437" width="3" height="15" fill="#00ff00"/>
<rect x="1107" y="446" width="1" height="19" fill="#00ff00"/>
<rect x="1106" y="452" width="3" height="10" fill="#00ff00"/>
<rect x="1111" y="457" width="1" height="34" fill="#00ff00"/>
<rect x="1110" y="460" width="3" height="4" fill="#00ff00"/>
<rect x="1115" y="450" width="1" height="15" fill="#ff0000"/>
<rect x="1114" y="453" width="3" height="11" fill="#ff0000"/>
<rect x="1119" y="406" width="1" height="52" fill="#ff0000"/>
<rect x="1118" y="427" width="3" height="29" fill="#ff0000"/>
<rect x="1123" y="425" width="1" height="23" fill="#00ff00"/>
<rect x="1122" y="427" width="3" height="18" fill="#00ff00"/>
<rect x="1127" y="444" width="1" height="49" fill="#00ff00"/>
<rect x="1126" y="445" width="3" height="47" fill="#00ff00"/>
<rect x="1131" y="438" width="1" height="55" fill="#ff0000"/>
<rect x="1130" y="469" width="3" height="23" fill="#ff0000"/>
<rect x="1135" y="444" width="1" height="33" fill="#ff0000"/>
<rect x="1134" y="451" width="3" height="19" fill="#ff0000"/>
<rect x="1139" y="447" width="1" height="11" fill="#00ff00"/>
<rect x="1138" y="451" width="3" height="5" fill="#00ff00"/>
<rect x="1143" y="431" width="1" height="29" fill="#ff0000"/>
<rect x="1142" y="445" width="3" height="12" fill="#ff0000"/>
<rect x="1147" y="439" width="1" height="29" fill="#ff0000"/>
<rect x="1146" y="441" width="3" height="5" fill="#ff0000"/>
<rect x="1151" y="425" width="1" height="47" fill="#00ff00"/>
<rect x="1150" y="441" width="3" height="25" fill="#00ff00"/>
<rect x="1155" y="459" width="1" height="20" fill="#00ff00"/>
<rect x="1154" y="465" width="3" height="7" fill="#00ff00"/>
<rect x="1159" y="460" width="1" height="17" fill="#00ff00"/>
<rect x="1158" y="471" width="3" height="4" fill="#00ff00"/>
<rect x="1163" y="470" width="1" height="6" fill="#ff0000"/>
<rect x="1162" y="471" width="3" height="4" fill="#ff0000"/>
<rect x="1167" y="471" width="1" height="22" fill="#00ff00"/>
<rect x="1166" y="474" width="3" height="16" fill="#00ff00"/>
<rect x="1171" y="484" width="1" height="28" fill="#00ff00"/>
<rect x="1170" y="489" width="3" height="14" fill="#00ff00"/>
<rect x="1175" y="463" width="1" height="45" fill="#ff0000"/>
<rect x="1174" y="463" width="3" height="40" fill="#ff0000"/>
<rect x="1179" y="442" width="1" height="37" fill="#00ff00"/>
<rect x="1178" y="463" width="3" height="15" fill="#00ff00"/>
<rect x="1183" y="453" width="1" height="35" fill="#ff0000"/>
<rect x="1182" y="456" width="3" height="22" fill="#ff0000"/>
<rect x="1187" y="452" width="1" height="9" fill="#00ff00"/>
<rect x="1186" y="456" width="3" height="4" fill="#00ff00"/>
<rect x="1191" y="457" width="1" height="25" fill="#00ff00"/>
<rect x="1190" y="463" width="3" height="2" fill="#00ff00"/>
<rect x="1195" y="458" width="1" height="23" fill="#00ff00"/>
<rect x="1194" y="466" width="3" height="10" fill="#00ff00"/>
<rect x="1199" y="460" width="1" height="24" fill="#00ff00"/>
<rect x="1198" y="475" width="3" height="2" fill="#00ff00"/>
<rect x="1203" y="460" width="1" height="40" fill="#00ff00"/>
<rect x="1202" y="476" width="3" height="5" fill="#00ff00"/>
<rect x="1207" y="469" width="1" height="36" fill="#00ff00"/>
<rect x="1206" y="480" width="3" height="18" fill="#00ff00"/>
<rect x="1211" y="490" width="1" height="10" fill="#ff0000"/>
<rect x="1210" y="493" width="3" height="5" fill="#ff0000"/>
<rect x="1215" y="492" width="1" height="25" fill="#00ff00"/>
<rect x="1214" y="498" width="3" height="13" fill="#00ff00"/>
<rect x="1219" y="469" width="1" height="48" fill="#ff0000"/>
<rect x="1218" y="483" width="3" height="28" fill="#ff0000"/>
<rect x="1223" y="453" width="1" height="31" fill="#ff0000"/>
<rect x="1222" y="467" width="3" height="16" fill="#ff0000"/>
<rect x="1227" y="451" width="1" height="27" fill="#00ff00"/>
<rect x="1226" y="467" width="3" height="1" fill="#00ff00"/>
<rect x="1231" y="441" width="1" height="35" fill="#ff0000"/>
<rect x="1230" y="448" width="3" height="20" fill="#ff0000"/>
<rect x="1235" y="446" width="1" height="15" fill="#00ff00"/>
<rect x="1234" y="448" width="3" height="12" fill="#00ff00"/>
<rect x="1239" y="443" width="1" height="18" fill="#ff0000"/>
<rect x="1238" y="444" width="3" height="12" fill="#ff0000"/>
<rect x="1243" y="424" width="1" height="21" fill="#ff0000"/>
<rect x="1242" y="438" width="3" height="7" fill="#ff0000"/>
<rect x="1247" y="429" width="1" height="31" fill="#00ff00"/>
<rect x="1246" y="438" width="3" height="19" fill="#00ff00"/>
<rect x="1251" y="454" width="1" height="40" fill="#00ff00"/>
<rect x="1250" y="457" width="3" height="24" fill="#00ff00"/>
<rect x="1255" y="465" width="1" height="18" fill="#ff0000"/>
<rect x="1254" y="473" width="3" height="8" fill="#ff0000"/>
<rect x="1259" y="470" width="1" height="7" fill="#ff0000"/>
<rect x="1258" y="471" width="3" height="2" fill="#ff0000"/>
<rect x="1263" y="473" width="1" height="17" fill="#00ff00"/>
<rect x="1262" y="476" width="3" height="8" fill="#00ff00"/>
<rect x="1267" y="475" width="1" height="9" fill="#ff0000"/>
<rect x="1266" y="476" width="3" height="8" fill="#ff0000"/>
<clipPath id="cm"><rect x="3" y="24" width="1592" height="504"/></clipPath>
<g clip-path="url(#cm)">
<polyline points="2.9,115.4 7.5,111.9 15.6,109.9 23.5,107.9 27.7,105.9 31.6,103.0 35.3,100.9 43.5,100.4 51.4,100.9 59.3,100.0 63.4,97.4 71.2,94.1 79.1,92.5 87.0,92.1 95.3,88.8 103.4,84.2 111.4,80.9 116.0,78.5 124.0,80.9 131.9,89.5 139.4,94.1 147.3,95.1 155.6,96.7 163.5,98.7 170.1,103.3 176.7,107.3 184.6,107.3 189.9,104.0 199.1,98.0 203.7,97.4 212.3,97.4 216.0,98.7 223.9,101.7 231.4,100.1 235.5,98.4 243.4,97.1 247.6,95.4 258.2,95.4 262.2,93.8 268.7,91.4 274.0,86.1 278.0,84.3 287.3,84.3 291.4,85.2 296.4,85.6 301.7,87.2 307.4,92.2 311.3,96.4 319.4,105.0 327.4,113.6 331.4,120.8 335.3,124.1 339.4,126.8 345.2,130.0 354.5,136.6 359.7,139.9 363.7,141.2 371.6,149.8 382.2,163.6 391.4,171.5 395.3,172.9 407.2,184.1 413.8,189.3 421.7,193.6 432.0,197.0 433.6,197.7 445.2,198.4 451.5,200.4 458.4,201.4 471.6,201.4 484.7,201.0 495.3,202.4 503.3,199.7 507.4,197.1 511.4,194.8 523.4,189.2 535.4,183.2 543.4,173.4 551.3,161.5 555.4,156.9 561.2,154.5 575.7,154.5 579.3,156.2 583.7,159.5 588.3,164.8 591.6,171.4 595.4,179.6 600.8,189.8 602.2,195.0 607.3,213.5 612.7,233.2 618.0,253.0 625.9,275.4 631.2,286.0 636.5,292.3 639.1,296.9 644.4,296.9 647.0,292.9 652.3,285.0 652.3,279.4 661.5,254.3 669.5,225.3 676.0,204.2 679.3,200.7 683.4,200.3 691.9,196.0 695.3,190.4 699.4,185.4 703.3,185.4 707.3,187.8 711.4,191.1 715.3,197.0 723.4,204.3 727.3,210.0 732.8,210.6 735.3,206.9 739.3,203.6 747.3,200.3 751.3,200.3 756.5,203.6 763.1,209.5 767.3,211.5 771.0,208.8 776.0,207.1 780.0,205.0 787.5,197.7 795.5,194.1 799.5,195.8 803.4,198.4 807.4,198.4 815.4,194.5 819.4,192.2 823.3,192.2 827.4,194.1 835.3,197.5 839.4,197.7 843.4,199.3 847.3,200.1 851.4,198.4 859.3,193.1 863.3,191.2 867.4,192.2 875.3,193.1 883.3,194.1 887.4,194.8 891.4,196.4 899.4,203.7 907.3,209.6 911.3,212.5 915.4,216.9 921.1,218.8 927.4,225.4 931.6,234.7 935.3,242.9 940.8,253.5 943.3,257.7 951.3,264.7 959.3,272.6 964.3,276.6 971.5,281.2 975.5,286.5 979.5,291.1 983.5,294.4 989.3,294.0 995.5,290.8 999.5,290.4 1003.5,293.7 1009.1,294.4 1015.5,297.0 1019.5,299.0 1023.5,303.2 1031.5,308.9 1039.5,312.2 1047.5,316.8 1055.5,322.1 1063.5,326.7 1071.5,329.6 1075.5,334.6 1080.3,339.9 1086.4,346.6 1094.3,358.5 1102.2,374.3 1107.5,386.2 1112.7,400.7 1118.0,409.9 1122.0,418.0 1127.4,429.9 1131.3,436.5 1135.4,443.1 1139.4,447.0 1143.3,449.6 1147.3,450.3 1151.4,452.9 1159.3,458.2 1163.4,459.1 1167.3,461.3 1171.4,463.5 1175.4,465.5 1179.3,468.8 1183.4,466.5 1187.4,466.5 1191.3,467.1 1195.3,468.8 1199.4,470.1 1203.3,473.4 1207.3,475.4 1211.4,477.3 1215.3,480.0 1219.3,480.2 1223.4,478.0 1227.3,476.7 1231.3,475.0 1235.3,474.0 1239.3,472.7 1243.3,471.8 1247.3,471.1 1251.3,471.1 1255.3,471.1 1259.3,470.5 1263.3,469.4 1267.3,467.8" fill="none" stroke="#ff0000" stroke-width="0.99" />
<polyline points="2.9,104.2 15.8,101.7 19.5,102.2 31.4,92.5 35.6,92.7 39.6,96.0 47.5,104.6 58.0,104.2 63.4,93.4 71.2,87.5 79.4,78.0 87.0,79.3 95.3,84.6 103.4,82.5 111.4,77.2 117.4,74.6 120.7,75.9 124.0,83.5 139.4,119.8 143.3,117.8 151.4,100.7 159.3,90.8 164.2,87.2 168.1,89.1 171.4,95.4 183.3,120.2 187.3,119.1 195.2,103.3 203.7,84.8 211.3,81.5 216.0,86.2 221.3,97.7 227.5,107.0 231.4,111.6 235.5,110.9 243.4,105.7 247.4,97.7 259.5,79.6 264.1,70.7 271.4,67.7 275.3,64.8 279.4,70.7 283.4,82.6 287.3,90.5 291.4,100.4 295.4,109.0 299.3,110.7 305.7,110.9 311.3,114.2 316.2,117.5 321.5,125.7 327.4,130.1 333.4,139.2 339.4,144.5 346.6,148.5 351.8,146.5 363.3,146.5 367.4,151.8 375.3,168.9 380.8,185.4 387.3,198.6 391.3,201.2 399.3,198.6 407.3,194.0 415.3,190.9 419.7,187.4 425.7,188.7 432.0,198.6 437.9,208.3 443.5,213.6 447.4,212.3 451.5,209.0 455.5,205.0 463.4,201.7 471.4,197.1 475.4,191.8 479.3,188.3 483.4,190.5 487.4,196.4 491.3,203.0 499.4,214.2 503.3,209.6 507.4,200.4 511.4,188.5 515.3,178.6 519.3,171.4 523.4,168.1 531.3,164.8 535.4,160.8 543.4,152.3 549.4,146.3 551.3,142.5 555.4,142.2 559.4,144.2 567.3,152.7 575.3,162.0 579.3,168.7 583.4,178.6 587.3,189.8 591.3,204.3 595.4,222.8 599.4,235.9 603.4,253.0 607.3,279.4 608.8,285.0 612.7,307.4 618.0,337.7 623.4,356.9 627.4,340.4 631.3,321.9 635.4,300.8 639.1,292.9 640.4,285.0 643.3,264.9 647.3,245.1 651.4,217.4 654.9,195.0 655.3,186.5 659.3,154.8 663.4,136.4 667.3,129.5 671.4,135.1 675.4,149.6 679.3,179.9 680.7,195.0 683.4,208.2 687.4,228.0 691.3,244.5 695.3,241.8 699.4,221.4 703.3,205.5 706.4,195.0 707.3,189.1 711.4,178.6 715.3,175.3 719.3,177.3 723.4,187.8 727.3,199.7 731.3,208.9 731.3,205.5 735.3,210.8 739.3,217.4 743.3,222.0 747.3,217.7 755.2,217.4 759.3,213.5 767.3,202.9 773.6,195.0 776.0,191.2 783.5,179.3 789.2,174.7 791.4,175.3 795.5,183.2 799.5,195.8 803.4,207.0 807.4,216.2 811.3,219.5 815.4,210.9 819.4,200.4 823.3,191.2 827.4,186.9 831.4,187.2 835.3,192.5 839.4,195.8 843.4,193.5 847.3,191.2 855.1,190.5 859.3,187.9 863.3,192.5 867.4,197.1 875.3,195.8 879.4,195.8 883.3,194.1 887.4,195.8 891.4,200.4 895.3,210.9 899.4,218.8 903.4,225.4 907.3,232.0 911.3,236.0 915.4,239.3 923.7,239.0 927.4,242.9 931.3,252.1 935.3,265.3 939.2,285.8 943.2,296.4 947.5,299.3 951.5,297.7 955.5,293.1 959.5,283.2 963.5,282.5 972.2,283.2 975.5,286.5 979.5,291.1 983.5,295.1 987.5,298.4 991.5,301.0 995.5,301.4 999.5,295.7 1003.5,296.4 1007.5,299.7 1015.5,303.0 1019.5,307.6 1023.5,311.9 1027.5,316.2 1031.5,323.4 1035.5,328.7 1039.5,333.3 1051.3,333.6 1055.5,328.7 1059.5,326.0 1063.5,327.8 1067.4,330.9 1071.5,330.0 1075.5,337.3 1079.5,353.2 1083.5,366.4 1087.4,379.6 1091.4,395.4 1095.3,407.3 1099.4,417.8 1103.5,427.2 1107.5,436.5 1111.4,446.4 1115.4,452.6 1119.3,450.7 1123.4,450.7 1127.4,456.2 1131.3,457.3 1135.4,457.3 1139.4,462.2 1143.3,462.2 1147.3,452.9 1151.4,451.6 1155.3,454.3 1159.3,458.2 1163.4,464.2 1167.3,473.4 1171.4,482.4 1175.4,480.6 1179.3,481.3 1183.4,477.3 1187.4,470.7 1191.3,465.2 1195.3,466.8 1199.4,466.8 1203.3,473.4 1207.3,480.0 1211.4,485.9 1215.3,491.2 1219.3,492.1 1223.4,489.9 1227.3,483.9 1231.3,476.0 1235.3,463.5 1239.3,456.9 1243.3,452.3 1247.3,449.4 1251.3,456.2 1255.3,457.6 1259.3,462.8 1263.3,471.4 1267.3,476.7" fill="none" stroke="#ffa500" stroke-width="0.99" />
<polyline points="2.9,144.2 7.9,139.6 15.8,133.0 23.7,126.4 34.3,121.5 43.5,118.5 51.4,114.5 59.3,109.9 63.4,107.3 67.3,105.9 75.2,101.3 79.1,100.4 87.0,99.3 95.3,96.7 103.4,93.8 111.4,91.2 119.3,89.5 127.4,90.1 131.9,90.8 138.5,93.4 155.6,93.4 163.5,91.4 168.8,91.7 174.1,93.0 179.3,93.4 184.6,95.4 195.2,96.4 213.6,96.7 216.0,97.4 223.9,99.3 231.4,101.0 235.5,103.0 243.4,103.0 247.6,101.0 251.3,99.1 259.5,95.8 268.7,93.5 279.4,93.3 287.3,94.5 295.4,93.5 303.3,92.2 307.4,92.7 315.3,95.1 323.3,99.1 331.4,103.0 339.4,105.9 347.3,108.3 355.4,110.3 363.3,113.8 367.4,116.9 380.2,130.0 386.1,138.6 399.3,151.1 409.9,157.0 421.7,164.3 432.0,172.9 439.9,179.0 447.4,183.0 455.5,186.5 463.4,189.8 471.4,193.5 479.5,194.5 484.7,197.1 491.3,200.1 499.4,200.4 507.4,198.0 515.3,197.1 519.3,195.4 531.3,193.1 539.3,190.5 547.4,187.2 555.4,181.3 559.4,179.3 567.3,177.3 575.3,174.7 585.0,174.3 591.3,176.6 595.4,179.6 603.4,184.6 611.3,193.1 616.6,201.0 621.9,207.6 627.2,212.9 633.8,217.5 639.0,223.5 643.3,226.1 648.0,226.5 654.9,225.3 658.9,223.4 669.5,223.4 674.7,226.6 679.3,230.6 687.4,237.2 693.2,240.1 698.5,240.5 707.3,237.2 713.0,233.2 719.6,229.9 726.2,224.0 731.4,218.1 736.7,210.8 744.6,204.2 751.3,200.3 759.3,196.3 763.7,195.7 771.0,196.3 776.0,199.6 787.5,203.0 795.5,203.0 807.4,201.0 811.3,199.1 819.5,198.4 827.4,200.4 839.3,201.0 847.3,199.1 855.4,196.7 863.3,195.4 871.3,194.5 879.4,193.5 883.3,193.5 891.4,195.1 899.4,199.1 907.3,203.0 915.8,207.2 918.4,206.3 925.7,206.3 929.0,209.0 935.6,215.6 939.5,221.5 946.1,225.4 951.4,230.1 958.0,234.0 964.6,240.3 973.8,246.2 979.1,252.1 984.4,256.8 992.0,262.7 1000.6,270.0 1009.1,277.3 1017.0,282.5 1024.9,288.5 1032.9,294.4 1039.5,299.0 1044.7,304.3 1048.7,305.6 1055.3,307.2 1059.5,305.9 1063.5,307.6 1071.1,311.9 1075.5,314.8 1088.2,327.4 1101.4,341.9 1110.1,353.2 1118.0,363.7 1124.6,370.3 1128.6,378.2 1133.8,384.8 1152.3,403.3 1161.5,413.2 1170.8,425.9 1177.4,433.8 1183.4,441.7 1189.2,447.7 1195.3,453.6 1203.3,460.2 1211.4,464.8 1218.2,468.8 1223.4,469.2 1235.4,469.2 1239.3,470.5 1243.3,469.4 1247.3,468.1 1251.3,468.4 1257.8,469.2 1263.3,470.7 1267.3,472.3" fill="none" stroke="#0000cd" stroke-width="0.99" />
</g>
<g shape-rendering="auto">
<rect x="3" y="253" width="1592" height="2" fill="#ff0000"/>
<rect x="2" y="251" width="6" height="6" fill="#ff0000"/>
<rect x="4" y="253" width="2" height="2" fill="#fff"/>
<rect x="1589" y="251" width="6" height="6" fill="#ff0000"/>
<rect x="1591" y="253" width="2" height="2" fill="#fff"/>
<rect x="1597" y="248" width="41" height="11" fill="#ff0000"/>
<text x="1601.5" y="257.0" font-size="9.8" fill="#fff" stroke="#fff" stroke-width="0.15" textLength="32.5" lengthAdjust="spacingAndGlyphs">0.95740</text>
<rect x="3" y="312" width="1592" height="2" fill="#ff0000"/>
<rect x="2" y="310" width="6" height="6" fill="#ff0000"/>
<rect x="4" y="312" width="2" height="2" fill="#fff"/>
<rect x="1589" y="310" width="6" height="6" fill="#ff0000"/>
<rect x="1591" y="312" width="2" height="2" fill="#fff"/>
<rect x="1597" y="307" width="41" height="11" fill="#ff0000"/>
<text x="1601.5" y="316.0" font-size="9.8" fill="#fff" stroke="#fff" stroke-width="0.15" textLength="32.5" lengthAdjust="spacingAndGlyphs">0.94436</text>
<rect x="3" y="376" width="1592" height="2" fill="#ff0000"/>
<rect x="2" y="374" width="6" height="6" fill="#ff0000"/>
<rect x="4" y="376" width="2" height="2" fill="#fff"/>
<rect x="1589" y="374" width="6" height="6" fill="#ff0000"/>
<rect x="1591" y="376" width="2" height="2" fill="#fff"/>
<rect x="1597" y="371" width="41" height="11" fill="#ff0000"/>
<text x="1601.5" y="380.0" font-size="9.8" fill="#fff" stroke="#fff" stroke-width="0.15" textLength="32.5" lengthAdjust="spacingAndGlyphs">0.93024</text>
<rect x="3" y="437" width="1592" height="2" fill="#00ff00"/>
<rect x="2" y="435" width="6" height="6" fill="#00ff00"/>
<rect x="4" y="437" width="2" height="2" fill="#fff"/>
<rect x="1589" y="435" width="6" height="6" fill="#00ff00"/>
<rect x="1591" y="437" width="2" height="2" fill="#fff"/>
<rect x="1597" y="432" width="41" height="11" fill="#00ff00"/>
<text x="1601.5" y="441.0" font-size="9.8" fill="#fff" stroke="#fff" stroke-width="0.15" textLength="32.5" lengthAdjust="spacingAndGlyphs">0.91697</text>
<rect x="3" y="513" width="1592" height="2" fill="#0000ff"/>
<rect x="2" y="511" width="6" height="6" fill="#0000ff"/>
<rect x="4" y="513" width="2" height="2" fill="#fff"/>
<rect x="1589" y="511" width="6" height="6" fill="#0000ff"/>
<rect x="1591" y="513" width="2" height="2" fill="#fff"/>
<rect x="1597" y="508" width="41" height="11" fill="#0000ff"/>
<text x="1601.5" y="517.0" font-size="9.8" fill="#fff" stroke="#fff" stroke-width="0.15" textLength="32.5" lengthAdjust="spacingAndGlyphs">0.90026</text>
<rect x="1597" y="471" width="41" height="11" fill="#000"/>
<text x="1601.5" y="480.0" font-size="9.8" fill="#fff" stroke="#fff" stroke-width="0.15" textLength="32.5" lengthAdjust="spacingAndGlyphs">0.90845</text>
</g>
<g shape-rendering="auto">
<rect x="6" y="30" width="7" height="1" fill="#000"/>
<rect x="7" y="31" width="5" height="1" fill="#000"/>
<rect x="8" y="32" width="3" height="1" fill="#000"/>
<rect x="9" y="33" width="1" height="1" fill="#000"/>
<text x="18.5" y="35.0" font-size="9.8" fill="#000" stroke="#000" stroke-width="0.15" textLength="64.4" lengthAdjust="spacingAndGlyphs">USDCHF,Daily</text>
<text x="89.4" y="35.0" font-size="9.8" fill="#000" stroke="#000" stroke-width="0.15" textLength="32.4" lengthAdjust="spacingAndGlyphs">0.90703</text>
<text x="125.3" y="35.0" font-size="9.8" fill="#000" stroke="#000" stroke-width="0.15" textLength="32.4" lengthAdjust="spacingAndGlyphs">0.90878</text>
<text x="161.2" y="35.0" font-size="9.8" fill="#000" stroke="#000" stroke-width="0.15" textLength="32.4" lengthAdjust="spacingAndGlyphs">0.90694</text>
<text x="197" y="35.0" font-size="9.8" fill="#000" stroke="#000" stroke-width="0.15" textLength="32.4" lengthAdjust="spacingAndGlyphs">0.90845</text>
</g>
<g shape-rendering="auto">
<line x1="4" x2="1595" y1="558.5" y2="558.5" stroke="#c0c0c0" stroke-width="1" stroke-dasharray="3,3" shape-rendering="crispEdges"/>
<line x1="4" x2="1595" y1="594.5" y2="594.5" stroke="#c0c0c0" stroke-width="1" stroke-dasharray="3,3" shape-rendering="crispEdges"/>
<polyline points="3.0,572.5 10.0,570.5 19.0,568.4 23.6,565.4 28.0,569.4 33.0,569.6 39.0,574.5 43.7,578.5 48.1,573.1 52.1,570.5 59.5,575.5 63.7,565.4 67.5,572.5 72.1,568.4 76.1,568.4 84.1,572.5 91.7,573.5 96.1,572.5 106.1,568.4 111.1,569.0 115.1,567.0 118.1,571.1 120.1,576.1 123.1,586.5 126.2,588.1 131.2,589.5 135.2,586.5 140.2,580.5 152.2,572.5 155.2,572.5 159.6,569.4 164.2,575.5 171.8,585.5 176.2,587.5 183.2,585.5 187.2,575.5 191.2,574.5 197.2,569.4 203.6,566.0 207.2,573.5 211.3,573.5 215.3,581.1 219.3,583.1 226.3,580.5 231.7,584.5 239.3,574.5 243.3,577.1 248.3,569.0 251.3,567.4 255.3,567.4 259.3,565.4 266.3,566.0 275.3,564.4 279.3,580.1 283.3,588.1 288.3,584.5 292.4,584.5 296.4,580.5 301.4,582.1 308.4,586.5 315.4,585.5 319.4,590.1 324.0,587.1 327.0,588.1 331.0,593.5 335.6,589.5 339.6,592.5 343.6,586.5 347.0,584.5 352.0,584.5 356.0,587.1 359.4,588.1 363.7,584.5 367.5,591.1 375.1,597.1 379.5,598.1 383.1,599.5 391.1,591.1 395.1,588.5 399.5,592.5 403.7,586.5 407.5,588.5 411.7,583.5 415.7,582.1 419.5,583.5 424.1,587.1 427.1,589.1 431.7,593.5 435.7,594.1 439.5,586.5 443.5,586.1 447.6,583.5 451.6,585.5 455.6,580.5 459.6,582.1 463.6,579.5 468.2,579.5 471.6,581.1 475.6,573.1 479.6,571.1 483.8,581.1 487.6,586.5 491.6,588.5 496.2,582.1 500.2,576.1 504.2,572.1 512.2,569.0 516.2,568.4 526.2,568.4 527.6,569.4 531.7,566.4 535.7,562.4 544.3,562.4 547.7,563.4 551.7,560.0 555.3,562.4 559.3,573.1 563.3,574.5 567.3,574.5 571.7,577.1 575.3,575.5 579.3,587.5 587.3,593.1 591.7,599.5 595.7,602.5 600.3,602.5 603.3,605.1 607.7,610.1 612.4,610.5 615.8,612.5 619.8,606.5 623.8,597.1 627.4,580.5 631.4,580.5 635.4,579.1 639.8,585.5 640.0,583.1 643.0,574.1 647.0,568.0 651.0,563.0 655.0,561.0 659.4,560.0 663.4,566.0 667.0,567.0 671.0,569.0 675.0,577.1 679.4,583.5 683.1,584.5 687.1,579.5 692.1,577.5 696.1,575.1 700.1,572.1 703.7,569.4 707.5,571.1 711.5,570.5 715.5,575.5 719.5,575.5 724.1,578.1 727.5,579.5 731.5,579.5 735.5,577.1 739.5,582.5 743.5,578.5 747.5,575.5 752.1,577.5 755.5,576.5 759.5,577.5 763.5,575.5 771.6,571.5 775.6,569.4 784.2,569.4 787.6,571.1 791.6,570.1 795.6,579.5 799.6,586.5 803.6,584.1 807.2,582.1 811.6,573.5 815.6,571.5 819.6,571.5 823.6,576.5 827.6,575.5 831.2,574.5 835.6,578.5 839.6,576.1 843.6,573.7 849.3,573.7 855.7,577.1 859.7,574.5 863.7,582.5 867.7,576.5 871.7,574.5 876.3,574.5 879.7,576.5 883.7,581.5 887.7,577.5 891.7,583.1 895.7,585.5 899.7,585.5 903.7,586.5 907.7,584.5 911.7,585.5 915.7,590.5 919.7,581.5 923.7,582.5 927.7,587.1 931.8,593.1 935.8,596.1 939.8,599.1 942.4,586.5 945.4,582.5 947.8,581.5 951.8,584.5 955.8,585.5 959.8,583.5 960.0,583.5 964.0,583.5 967.0,582.5 971.0,582.5 975.0,586.1 979.4,589.5 983.4,585.1 987.0,583.5 993.0,583.5 995.4,584.5 999.4,580.5 1003.5,584.1 1007.5,585.5 1017.1,585.5 1019.5,586.5 1023.5,589.1 1027.5,590.5 1031.5,593.1 1035.5,590.5 1039.5,590.5 1043.5,586.5 1047.5,587.5 1051.5,590.1 1055.5,580.5 1059.5,580.5 1063.5,586.1 1067.5,587.1 1071.5,586.1 1075.5,591.1 1079.5,596.5 1083.5,599.5 1087.6,601.5 1093.2,601.5 1099.6,604.1 1103.6,605.5 1107.6,606.1 1111.6,607.5 1115.6,599.1 1119.6,590.5 1123.6,592.5 1127.6,600.1 1131.6,593.1 1135.6,587.5 1139.6,588.1 1143.6,585.5 1147.6,584.5 1151.6,589.1 1155.6,590.5 1163.6,590.5 1167.6,593.1 1171.7,595.1 1175.3,582.5 1179.7,585.1 1183.7,580.5 1188.3,580.5 1195.7,584.5 1202.3,584.5 1207.7,589.1 1211.7,587.5 1215.7,591.1 1219.7,582.1 1223.7,577.5 1227.7,578.1 1231.7,573.5 1235.7,576.1 1239.7,572.5 1243.3,571.5 1247.7,577.1 1251.8,581.5 1255.8,580.5 1258.4,579.5 1261.4,580.5 1263.8,582.1 1267.0,580.5" fill="none" stroke="#1e90ff" stroke-width="0.99" shape-rendering="crispEdges"/>
<text x="7.2" y="543.0" font-size="9.8" fill="#000" stroke="#000" stroke-width="0.15" textLength="68.0" lengthAdjust="spacingAndGlyphs">RSI(14) 46.0774</text>
<text x="1599.3" y="541.0" font-size="9.8" fill="#000" stroke="#000" stroke-width="0.15" textLength="14.6" lengthAdjust="spacingAndGlyphs">100</text>
<text x="1599.3" y="562.0" font-size="9.8" fill="#000" stroke="#000" stroke-width="0.15" textLength="9.8" lengthAdjust="spacingAndGlyphs">70</text>
<text x="1599.3" y="598.0" font-size="9.8" fill="#000" stroke="#000" stroke-width="0.15" textLength="9.8" lengthAdjust="spacingAndGlyphs">30</text>
<text x="1599.3" y="619.0" font-size="9.8" fill="#000" stroke="#000" stroke-width="0.15" textLength="4.9" lengthAdjust="spacingAndGlyphs">0</text>
</g>
<rect x="3" y="643" width="1" height="13" fill="#c0c0c0"/>
<rect x="7" y="643" width="1" height="13" fill="#c0c0c0"/>
<rect x="11" y="644" width="1" height="12" fill="#c0c0c0"/>
<rect x="15" y="644" width="1" height="12" fill="#c0c0c0"/>
<rect x="19" y="643" width="1" height="13" fill="#c0c0c0"/>
<rect x="23" y="643" width="1" height="13" fill="#c0c0c0"/>
<rect x="27" y="642" width="1" height="14" fill="#c0c0c0"/>
<rect x="31" y="642" width="1" height="14" fill="#c0c0c0"/>
<rect x="35" y="642" width="1" height="14" fill="#c0c0c0"/>
<rect x="39" y="645" width="1" height="11" fill="#c0c0c0"/>
<rect x="43" y="647" width="1" height="9" fill="#c0c0c0"/>
<rect x="47" y="648" width="1" height="8" fill="#c0c0c0"/>
<rect x="51" y="648" width="1" height="8" fill="#c0c0c0"/>
<rect x="55" y="648" width="1" height="8" fill="#c0c0c0"/>
<rect x="59" y="647" width="1" height="9" fill="#c0c0c0"/>
<rect x="63" y="646" width="1" height="10" fill="#c0c0c0"/>
<rect x="67" y="645" width="1" height="11" fill="#c0c0c0"/>
<rect x="71" y="644" width="1" height="12" fill="#c0c0c0"/>
<rect x="75" y="644" width="1" height="12" fill="#c0c0c0"/>
<rect x="79" y="644" width="1" height="12" fill="#c0c0c0"/>
<rect x="83" y="645" width="1" height="11" fill="#c0c0c0"/>
<rect x="87" y="646" width="1" height="10" fill="#c0c0c0"/>
<rect x="91" y="646" width="1" height="10" fill="#c0c0c0"/>
<rect x="95" y="646" width="1" height="10" fill="#c0c0c0"/>
<rect x="99" y="646" width="1" height="10" fill="#c0c0c0"/>
<rect x="103" y="646" width="1" height="10" fill="#c0c0c0"/>
<rect x="107" y="646" width="1" height="10" fill="#c0c0c0"/>
<rect x="111" y="646" width="1" height="10" fill="#c0c0c0"/>
<rect x="115" y="646" width="1" height="10" fill="#c0c0c0"/>
<rect x="119" y="646" width="1" height="10" fill="#c0c0c0"/>
<rect x="123" y="651" width="1" height="5" fill="#c0c0c0"/>
<rect x="131" y="656" width="1" height="3" fill="#c0c0c0"/>
<rect x="135" y="656" width="1" height="5" fill="#c0c0c0"/>
<rect x="139" y="656" width="1" height="5" fill="#c0c0c0"/>
<rect x="143" y="656" width="1" height="5" fill="#c0c0c0"/>
<rect x="147" y="656" width="1" height="4" fill="#c0c0c0"/>
<rect x="151" y="656" width="1" height="3" fill="#c0c0c0"/>
<rect x="155" y="656" width="1" height="2" fill="#c0c0c0"/>
<rect x="163" y="655" width="1" height="1" fill="#c0c0c0"/>
<rect x="171" y="656" width="1" height="3" fill="#c0c0c0"/>
<rect x="175" y="656" width="1" height="4" fill="#c0c0c0"/>
<rect x="179" y="656" width="1" height="6" fill="#c0c0c0"/>
<rect x="183" y="656" width="1" height="7" fill="#c0c0c0"/>
<rect x="187" y="656" width="1" height="6" fill="#c0c0c0"/>
<rect x="191" y="656" width="1" height="5" fill="#c0c0c0"/>
<rect x="195" y="656" width="1" height="3" fill="#c0c0c0"/>
<rect x="203" y="654" width="1" height="2" fill="#c0c0c0"/>
<rect x="207" y="653" width="1" height="3" fill="#c0c0c0"/>
<rect x="211" y="653" width="1" height="3" fill="#c0c0c0"/>
<rect x="215" y="654" width="1" height="2" fill="#c0c0c0"/>
<rect x="223" y="656" width="1" height="2" fill="#c0c0c0"/>
<rect x="227" y="656" width="1" height="3" fill="#c0c0c0"/>
<rect x="231" y="656" width="1" height="3" fill="#c0c0c0"/>
<rect x="235" y="656" width="1" height="3" fill="#c0c0c0"/>
<rect x="239" y="656" width="1" height="3" fill="#c0c0c0"/>
<rect x="243" y="656" width="1" height="2" fill="#c0c0c0"/>
<rect x="251" y="654" width="1" height="2" fill="#c0c0c0"/>
<rect x="255" y="652" width="1" height="4" fill="#c0c0c0"/>
<rect x="259" y="651" width="1" height="5" fill="#c0c0c0"/>
<rect x="263" y="650" width="1" height="6" fill="#c0c0c0"/>
<rect x="267" y="648" width="1" height="8" fill="#c0c0c0"/>
<rect x="271" y="647" width="1" height="9" fill="#c0c0c0"/>
<rect x="275" y="646" width="1" height="10" fill="#c0c0c0"/>
<rect x="279" y="649" width="1" height="7" fill="#c0c0c0"/>
<rect x="283" y="653" width="1" height="3" fill="#c0c0c0"/>
<rect x="287" y="655" width="1" height="1" fill="#c0c0c0"/>
<rect x="307" y="656" width="1" height="4" fill="#c0c0c0"/>
<rect x="311" y="656" width="1" height="6" fill="#c0c0c0"/>
<rect x="315" y="656" width="1" height="7" fill="#c0c0c0"/>
<rect x="319" y="656" width="1" height="9" fill="#c0c0c0"/>
<rect x="323" y="656" width="1" height="10" fill="#c0c0c0"/>
<rect x="327" y="656" width="1" height="12" fill="#c0c0c0"/>
<rect x="331" y="656" width="1" height="15" fill="#c0c0c0"/>
<rect x="335" y="656" width="1" height="16" fill="#c0c0c0"/>
<rect x="339" y="656" width="1" height="18" fill="#c0c0c0"/>
<rect x="343" y="656" width="1" height="18" fill="#c0c0c0"/>
<rect x="347" y="656" width="1" height="16" fill="#c0c0c0"/>
<rect x="351" y="656" width="1" height="15" fill="#c0c0c0"/>
<rect x="355" y="656" width="1" height="15" fill="#c0c0c0"/>
<rect x="359" y="656" width="1" height="16" fill="#c0c0c0"/>
<rect x="363" y="656" width="1" height="18" fill="#c0c0c0"/>
<rect x="367" y="656" width="1" height="19" fill="#c0c0c0"/>
<rect x="371" y="656" width="1" height="20" fill="#c0c0c0"/>
<rect x="375" y="656" width="1" height="23" fill="#c0c0c0"/>
<rect x="379" y="656" width="1" height="25" fill="#c0c0c0"/>
<rect x="383" y="656" width="1" height="26" fill="#c0c0c0"/>
<rect x="387" y="656" width="1" height="28" fill="#c0c0c0"/>
<rect x="391" y="656" width="1" height="27" fill="#c0c0c0"/>
<rect x="395" y="656" width="1" height="26" fill="#c0c0c0"/>
<rect x="399" y="656" width="1" height="26" fill="#c0c0c0"/>
<rect x="403" y="656" width="1" height="25" fill="#c0c0c0"/>
<rect x="407" y="656" width="1" height="25" fill="#c0c0c0"/>
<rect x="411" y="656" width="1" height="24" fill="#c0c0c0"/>
<rect x="415" y="656" width="1" height="22" fill="#c0c0c0"/>
<rect x="419" y="656" width="1" height="21" fill="#c0c0c0"/>
<rect x="423" y="656" width="1" height="20" fill="#c0c0c0"/>
<rect x="427" y="656" width="1" height="20" fill="#c0c0c0"/>
<rect x="431" y="656" width="1" height="20" fill="#c0c0c0"/>
<rect x="435" y="656" width="1" height="21" fill="#c0c0c0"/>
<rect x="439" y="656" width="1" height="21" fill="#c0c0c0"/>
<rect x="443" y="656" width="1" height="20" fill="#c0c0c0"/>
<rect x="447" y="656" width="1" height="19" fill="#c0c0c0"/>
<rect x="451" y="656" width="1" height="18" fill="#c0c0c0"/>
<rect x="455" y="656" width="1" height="17" fill="#c0c0c0"/>
<rect x="459" y="656" width="1" height="16" fill="#c0c0c0"/>
<rect x="463" y="656" width="1" height="15" fill="#c0c0c0"/>
<rect x="467" y="656" width="1" height="14" fill="#c0c0c0"/>
<rect x="471" y="656" width="1" height="12" fill="#c0c0c0"/>
<rect x="475" y="656" width="1" height="11" fill="#c0c0c0"/>
<rect x="479" y="656" width="1" height="8" fill="#c0c0c0"/>
<rect x="483" y="656" width="1" height="6" fill="#c0c0c0"/>
<rect x="487" y="656" width="1" height="8" fill="#c0c0c0"/>
<rect x="491" y="656" width="1" height="10" fill="#c0c0c0"/>
<rect x="495" y="656" width="1" height="10" fill="#c0c0c0"/>
<rect x="499" y="656" width="1" height="9" fill="#c0c0c0"/>
<rect x="503" y="656" width="1" height="8" fill="#c0c0c0"/>
<rect x="507" y="656" width="1" height="6" fill="#c0c0c0"/>
<rect x="511" y="656" width="1" height="4" fill="#c0c0c0"/>
<rect x="515" y="655" width="1" height="1" fill="#c0c0c0"/>
<rect x="519" y="653" width="1" height="3" fill="#c0c0c0"/>
<rect x="523" y="651" width="1" height="5" fill="#c0c0c0"/>
<rect x="527" y="650" width="1" height="6" fill="#c0c0c0"/>
<rect x="531" y="649" width="1" height="7" fill="#c0c0c0"/>
<rect x="535" y="648" width="1" height="8" fill="#c0c0c0"/>
<rect x="539" y="646" width="1" height="10" fill="#c0c0c0"/>
<rect x="543" y="644" width="1" height="12" fill="#c0c0c0"/>
<rect x="547" y="643" width="1" height="13" fill="#c0c0c0"/>
<rect x="551" y="642" width="1" height="14" fill="#c0c0c0"/>
<rect x="555" y="641" width="1" height="15" fill="#c0c0c0"/>
<rect x="559" y="643" width="1" height="13" fill="#c0c0c0"/>
<rect x="563" y="644" width="1" height="12" fill="#c0c0c0"/>
<rect x="567" y="646" width="1" height="10" fill="#c0c0c0"/>
<rect x="571" y="648" width="1" height="8" fill="#c0c0c0"/>
<rect x="575" y="650" width="1" height="6" fill="#c0c0c0"/>
<rect x="579" y="654" width="1" height="2" fill="#c0c0c0"/>
<rect x="587" y="656" width="1" height="5" fill="#c0c0c0"/>
<rect x="591" y="656" width="1" height="10" fill="#c0c0c0"/>
<rect x="595" y="656" width="1" height="16" fill="#c0c0c0"/>
<rect x="599" y="656" width="1" height="20" fill="#c0c0c0"/>
<rect x="603" y="656" width="1" height="27" fill="#c0c0c0"/>
<rect x="607" y="656" width="1" height="36" fill="#c0c0c0"/>
<rect x="611" y="656" width="1" height="43" fill="#c0c0c0"/>
<rect x="615" y="656" width="1" height="51" fill="#c0c0c0"/>
<rect x="619" y="656" width="1" height="56" fill="#c0c0c0"/>
<rect x="623" y="656" width="1" height="56" fill="#c0c0c0"/>
<rect x="627" y="656" width="1" height="50" fill="#c0c0c0"/>
<rect x="631" y="656" width="1" height="44" fill="#c0c0c0"/>
<rect x="635" y="656" width="1" height="38" fill="#c0c0c0"/>
<rect x="639" y="656" width="1" height="36" fill="#c0c0c0"/>
<rect x="643" y="656" width="1" height="28" fill="#c0c0c0"/>
<rect x="647" y="656" width="1" height="18" fill="#c0c0c0"/>
<rect x="651" y="656" width="1" height="4" fill="#c0c0c0"/>
<rect x="655" y="649" width="1" height="7" fill="#c0c0c0"/>
<rect x="659" y="639" width="1" height="17" fill="#c0c0c0"/>
<rect x="663" y="634" width="1" height="22" fill="#c0c0c0"/>
<rect x="667" y="631" width="1" height="25" fill="#c0c0c0"/>
<rect x="671" y="631" width="1" height="25" fill="#c0c0c0"/>
<rect x="675" y="636" width="1" height="20" fill="#c0c0c0"/>
<rect x="679" y="644" width="1" height="12" fill="#c0c0c0"/>
<rect x="683" y="652" width="1" height="4" fill="#c0c0c0"/>
<rect x="687" y="654" width="1" height="2" fill="#c0c0c0"/>
<rect x="699" y="653" width="1" height="3" fill="#c0c0c0"/>
<rect x="703" y="648" width="1" height="8" fill="#c0c0c0"/>
<rect x="707" y="645" width="1" height="11" fill="#c0c0c0"/>
<rect x="711" y="643" width="1" height="13" fill="#c0c0c0"/>
<rect x="715" y="644" width="1" height="12" fill="#c0c0c0"/>
<rect x="719" y="645" width="1" height="11" fill="#c0c0c0"/>
<rect x="723" y="648" width="1" height="8" fill="#c0c0c0"/>
<rect x="727" y="651" width="1" height="5" fill="#c0c0c0"/>
<rect x="731" y="653" width="1" height="3" fill="#c0c0c0"/>
<rect x="735" y="654" width="1" height="2" fill="#c0c0c0"/>
<rect x="771" y="654" width="1" height="2" fill="#c0c0c0"/>
<rect x="775" y="650" width="1" height="6" fill="#c0c0c0"/>
<rect x="779" y="648" width="1" height="8" fill="#c0c0c0"/>
<rect x="783" y="647" width="1" height="9" fill="#c0c0c0"/>
<rect x="787" y="647" width="1" height="9" fill="#c0c0c0"/>
<rect x="791" y="646" width="1" height="10" fill="#c0c0c0"/>
<rect x="795" y="649" width="1" height="7" fill="#c0c0c0"/>
<rect x="799" y="654" width="1" height="2" fill="#c0c0c0"/>
<rect x="807" y="656" width="1" height="2" fill="#c0c0c0"/>
<rect x="815" y="655" width="1" height="1" fill="#c0c0c0"/>
<rect x="819" y="653" width="1" height="3" fill="#c0c0c0"/>
<rect x="823" y="653" width="1" height="3" fill="#c0c0c0"/>
<rect x="827" y="654" width="1" height="2" fill="#c0c0c0"/>
<rect x="831" y="654" width="1" height="2" fill="#c0c0c0"/>
<rect x="835" y="655" width="1" height="1" fill="#c0c0c0"/>
<rect x="839" y="654" width="1" height="2" fill="#c0c0c0"/>
<rect x="843" y="653" width="1" height="3" fill="#c0c0c0"/>
<rect x="847" y="653" width="1" height="3" fill="#c0c0c0"/>
<rect x="851" y="653" width="1" height="3" fill="#c0c0c0"/>
<rect x="855" y="653" width="1" height="3" fill="#c0c0c0"/>
<rect x="859" y="653" width="1" height="3" fill="#c0c0c0"/>
<rect x="863" y="655" width="1" height="1" fill="#c0c0c0"/>
<rect x="875" y="655" width="1" height="1" fill="#c0c0c0"/>
<rect x="879" y="655" width="1" height="1" fill="#c0c0c0"/>
<rect x="891" y="656" width="1" height="3" fill="#c0c0c0"/>
<rect x="895" y="656" width="1" height="5" fill="#c0c0c0"/>
<rect x="899" y="656" width="1" height="8" fill="#c0c0c0"/>
<rect x="903" y="656" width="1" height="10" fill="#c0c0c0"/>
<rect x="907" y="656" width="1" height="11" fill="#c0c0c0"/>
<rect x="911" y="656" width="1" height="12" fill="#c0c0c0"/>
<rect x="915" y="656" width="1" height="15" fill="#c0c0c0"/>
<rect x="919" y="656" width="1" height="14" fill="#c0c0c0"/>
<rect x="923" y="656" width="1" height="13" fill="#c0c0c0"/>
<rect x="927" y="656" width="1" height="15" fill="#c0c0c0"/>
<rect x="931" y="656" width="1" height="19" fill="#c0c0c0"/>
<rect x="935" y="656" width="1" height="25" fill="#c0c0c0"/>
<rect x="939" y="656" width="1" height="31" fill="#c0c0c0"/>
<rect x="943" y="656" width="1" height="30" fill="#c0c0c0"/>
<rect x="947" y="656" width="1" height="28" fill="#c0c0c0"/>
<rect x="951" y="656" width="1" height="28" fill="#c0c0c0"/>
<rect x="955" y="656" width="1" height="27" fill="#c0c0c0"/>
<rect x="959" y="656" width="1" height="26" fill="#c0c0c0"/>
<rect x="963" y="656" width="1" height="26" fill="#c0c0c0"/>
<rect x="967" y="656" width="1" height="25" fill="#c0c0c0"/>
<rect x="971" y="656" width="1" height="24" fill="#c0c0c0"/>
<rect x="975" y="656" width="1" height="23" fill="#c0c0c0"/>
<rect x="979" y="656" width="1" height="24" fill="#c0c0c0"/>
<rect x="983" y="656" width="1" height="24" fill="#c0c0c0"/>
<rect x="987" y="656" width="1" height="23" fill="#c0c0c0"/>
<rect x="991" y="656" width="1" height="22" fill="#c0c0c0"/>
<rect x="995" y="656" width="1" height="21" fill="#c0c0c0"/>
<rect x="999" y="656" width="1" height="20" fill="#c0c0c0"/>
<rect x="1003" y="656" width="1" height="19" fill="#c0c0c0"/>
<rect x="1007" y="656" width="1" height="18" fill="#c0c0c0"/>
<rect x="1011" y="656" width="1" height="18" fill="#c0c0c0"/>
<rect x="1015" y="656" width="1" height="19" fill="#c0c0c0"/>
<rect x="1019" y="656" width="1" height="20" fill="#c0c0c0"/>
<rect x="1023" y="656" width="1" height="20" fill="#c0c0c0"/>
<rect x="1027" y="656" width="1" height="21" fill="#c0c0c0"/>
<rect x="1031" y="656" width="1" height="22" fill="#c0c0c0"/>
<rect x="1035" y="656" width="1" height="22" fill="#c0c0c0"/>
<rect x="1039" y="656" width="1" height="21" fill="#c0c0c0"/>
<rect x="1043" y="656" width="1" height="20" fill="#c0c0c0"/>
<rect x="1047" y="656" width="1" height="19" fill="#c0c0c0"/>
<rect x="1051" y="656" width="1" height="18" fill="#c0c0c0"/>
<rect x="1055" y="656" width="1" height="18" fill="#c0c0c0"/>
<rect x="1059" y="656" width="1" height="16" fill="#c0c0c0"/>
<rect x="1063" y="656" width="1" height="16" fill="#c0c0c0"/>
<rect x="1067" y="656" width="1" height="17" fill="#c0c0c0"/>
<rect x="1071" y="656" width="1" height="18" fill="#c0c0c0"/>
<rect x="1075" y="656" width="1" height="19" fill="#c0c0c0"/>
<rect x="1079" y="656" width="1" height="22" fill="#c0c0c0"/>
<rect x="1083" y="656" width="1" height="26" fill="#c0c0c0"/>
<rect x="1087" y="656" width="1" height="30" fill="#c0c0c0"/>
<rect x="1091" y="656" width="1" height="33" fill="#c0c0c0"/>
<rect x="1095" y="656" width="1" height="35" fill="#c0c0c0"/>
<rect x="1099" y="656" width="1" height="38" fill="#c0c0c0"/>
<rect x="1103" y="656" width="1" height="41" fill="#c0c0c0"/>
<rect x="1107" y="656" width="1" height="44" fill="#c0c0c0"/>
<rect x="1111" y="656" width="1" height="46" fill="#c0c0c0"/>
<rect x="1115" y="656" width="1" height="46" fill="#c0c0c0"/>
<rect x="1119" y="656" width="1" height="43" fill="#c0c0c0"/>
<rect x="1123" y="656" width="1" height="43" fill="#c0c0c0"/>
<rect x="1127" y="656" width="1" height="45" fill="#c0c0c0"/>
<rect x="1131" y="656" width="1" height="45" fill="#c0c0c0"/>
<rect x="1135" y="656" width="1" height="44" fill="#c0c0c0"/>
<rect x="1139" y="656" width="1" height="41" fill="#c0c0c0"/>
<rect x="1143" y="656" width="1" height="38" fill="#c0c0c0"/>
<rect x="1147" y="656" width="1" height="35" fill="#c0c0c0"/>
<rect x="1151" y="656" width="1" height="34" fill="#c0c0c0"/>
<rect x="1155" y="656" width="1" height="33" fill="#c0c0c0"/>
<rect x="1159" y="656" width="1" height="33" fill="#c0c0c0"/>
<rect x="1163" y="656" width="1" height="32" fill="#c0c0c0"/>
<rect x="1167" y="656" width="1" height="32" fill="#c0c0c0"/>
<rect x="1171" y="656" width="1" height="33" fill="#c0c0c0"/>
<rect x="1175" y="656" width="1" height="31" fill="#c0c0c0"/>
<rect x="1179" y="656" width="1" height="29" fill="#c0c0c0"/>
<rect x="1183" y="656" width="1" height="26" fill="#c0c0c0"/>
<rect x="1187" y="656" width="1" height="24" fill="#c0c0c0"/>
<rect x="1191" y="656" width="1" height="23" fill="#c0c0c0"/>
<rect x="1195" y="656" width="1" height="22" fill="#c0c0c0"/>
<rect x="1199" y="656" width="1" height="21" fill="#c0c0c0"/>
<rect x="1203" y="656" width="1" height="20" fill="#c0c0c0"/>
<rect x="1207" y="656" width="1" height="21" fill="#c0c0c0"/>
<rect x="1211" y="656" width="1" height="21" fill="#c0c0c0"/>
<rect x="1215" y="656" width="1" height="22" fill="#c0c0c0"/>
<rect x="1219" y="656" width="1" height="20" fill="#c0c0c0"/>
<rect x="1223" y="656" width="1" height="16" fill="#c0c0c0"/>
<rect x="1227" y="656" width="1" height="14" fill="#c0c0c0"/>
<rect x="1231" y="656" width="1" height="11" fill="#c0c0c0"/>
<rect x="1235" y="656" width="1" height="9" fill="#c0c0c0"/>
<rect x="1239" y="656" width="1" height="6" fill="#c0c0c0"/>
<rect x="1243" y="656" width="1" height="3" fill="#c0c0c0"/>
<rect x="1247" y="656" width="1" height="2" fill="#c0c0c0"/>
<rect x="1251" y="656" width="1" height="3" fill="#c0c0c0"/>
<rect x="1255" y="656" width="1" height="5" fill="#c0c0c0"/>
<rect x="1259" y="656" width="1" height="6" fill="#c0c0c0"/>
<rect x="1263" y="656" width="1" height="6" fill="#c0c0c0"/>
<rect x="1267" y="656" width="1" height="7" fill="#c0c0c0"/>
<polyline points="3.0,645.6 10.0,644.4 16.0,643.6 21.0,642.4 40.0,642.0 46.1,643.0 50.1,643.6 64.1,645.0 70.1,646.0 76.1,645.6 80.1,645.0 94.1,644.4 120.1,645.0 126.2,646.0 130.2,648.0 136.2,651.0 142.2,653.6 148.2,655.0 154.2,657.0 160.2,658.0 172.2,657.6 180.2,658.0 190.2,658.6 202.2,659.0 208.2,657.6 214.3,656.0 226.3,655.0 236.3,655.4 250.3,656.4 256.3,655.6 260.3,654.0 268.3,653.0 274.3,650.0 280.3,648.6 294.4,648.6 300.4,651.0 306.4,654.0 312.4,658.0 320.4,660.0 328.0,663.0 332.5,665.0 340.0,668.0 347.5,670.0 355.0,671.3 370.1,672.5 380.1,675.0 390.1,677.0 400.1,679.3 410.1,681.3 417.6,679.5 430.1,676.8 440.1,675.5 455.2,673.8 467.7,672.0 480.2,668.0 490.2,665.5 505.2,663.8 520.2,660.5 530.3,655.5 542.8,649.5 555.3,645.5 562.8,643.5 577.8,643.5 585.3,647.0 592.8,652.5 600.3,658.8 607.8,667.5 615.4,677.5 622.9,688.8 630.4,697.6 640.4,701.3 647.9,697.6 655.4,685.1 662.9,670.0 670.4,656.3 677.9,645.0 685.4,640.5 690.5,640.5 698.0,643.8 705.5,647.5 713.0,649.5 720.5,648.8 730.5,647.5 740.0,647.0 742.1,648.7 748.1,651.7 758.1,655.2 766.2,655.8 776.2,655.2 784.2,652.5 792.2,649.7 800.2,649.5 810.2,650.5 816.2,652.5 828.2,654.6 840.2,654.6 852.3,652.5 860.3,652.5 866.3,653.8 880.3,653.8 892.3,655.2 897.5,657.0 905.0,659.5 915.0,662.5 922.5,664.5 930.1,668.0 937.6,672.0 945.1,676.3 955.1,680.1 962.6,682.6 970.1,682.6 980.1,680.6 990.1,678.8 1000.1,677.5 1010.2,676.3 1022.7,674.5 1035.2,675.0 1050.2,675.5 1065.2,674.5 1077.7,673.3 1085.2,674.3 1095.3,678.0 1102.8,683.1 1110.3,688.8 1117.8,693.1 1125.3,697.1 1132.8,699.1 1140.3,699.3 1147.8,697.6 1155.3,695.1 1165.3,692.1 1177.9,688.8 1190.4,685.6 1202.9,681.3 1212.9,678.0 1225.4,675.8 1237.9,672.5 1247.9,668.0 1255.5,663.8 1263.0,661.3 1267.7,661.0" fill="none" stroke="#ff0000" stroke-width="0.99" stroke-dasharray="3,3"/>
<g shape-rendering="auto">
<text x="7.2" y="637.0" font-size="9.8" fill="#000" stroke="#000" stroke-width="0.15" textLength="154.0" lengthAdjust="spacingAndGlyphs">MACD(12,26,9) -0.001133 -0.000960</text>
<text x="1599.3" y="635.0" font-size="9.8" fill="#000" stroke="#000" stroke-width="0.15" textLength="37.2" lengthAdjust="spacingAndGlyphs">0.005818</text>
<text x="1599.3" y="660.0" font-size="9.8" fill="#000" stroke="#000" stroke-width="0.15" textLength="17.5" lengthAdjust="spacingAndGlyphs">0.00</text>
<text x="1599.3" y="713.0" font-size="9.8" fill="#000" stroke="#000" stroke-width="0.15" textLength="40.6" lengthAdjust="spacingAndGlyphs">-0.011514</text>
</g>
<g shape-rendering="auto">
<rect x="3" y="716" width="1" height="3" fill="#000"/>
<text x="2.5" y="729.0" font-size="9.8" fill="#000" stroke="#000" stroke-width="0.15" textLength="51.3" lengthAdjust="spacingAndGlyphs">12 Sep 2019</text>
<rect x="67" y="716" width="1" height="3" fill="#000"/>
<text x="66.5" y="729.0" font-size="9.8" fill="#000" stroke="#000" stroke-width="0.15" textLength="45.3" lengthAdjust="spacingAndGlyphs">1 Oct 2019</text>
<rect x="131" y="716" width="1" height="3" fill="#000"/>
<text x="130.5" y="729.0" font-size="9.8" fill="#000" stroke="#000" stroke-width="0.15" textLength="50.3" lengthAdjust="spacingAndGlyphs">19 Oct 2019</text>
<rect x="195" y="716" width="1" height="3" fill="#000"/>
<text x="194.5" y="729.0" font-size="9.8" fill="#000" stroke="#000" stroke-width="0.15" textLength="48.3" lengthAdjust="spacingAndGlyphs">7 Nov 2019</text>
<rect x="259" y="716" width="1" height="3" fill="#000"/>
<text x="258.5" y="729.0" font-size="9.8" fill="#000" stroke="#000" stroke-width="0.15" textLength="53.3" lengthAdjust="spacingAndGlyphs">26 Nov 2019</text>
<rect x="323" y="716" width="1" height="3" fill="#000"/>
<text x="322.5" y="729.0" font-size="9.8" fill="#000" stroke="#000" stroke-width="0.15" textLength="51.3" lengthAdjust="spacingAndGlyphs">14 Dec 2019</text>
<rect x="387" y="716" width="1" height="3" fill="#000"/>
<text x="386.5" y="729.0" font-size="9.8" fill="#000" stroke="#000" stroke-width="0.15" textLength="44.3" lengthAdjust="spacingAndGlyphs">2 Jan 2020</text>
<rect x="451" y="716" width="1" height="3" fill="#000"/>
<text x="450.5" y="729.0" font-size="9.8" fill="#000" stroke="#000" stroke-width="0.15" textLength="49.3" lengthAdjust="spacingAndGlyphs">21 Jan 2020</text>
<rect x="515" y="716" width="1" height="3" fill="#000"/>
<text x="514.5" y="729.0" font-size="9.8" fill="#000" stroke="#000" stroke-width="0.15" textLength="47.0" lengthAdjust="spacingAndGlyphs">8 Feb 2020</text>
<rect x="579" y="716" width="1" height="3" fill="#000"/>
<text x="578.5" y="729.0" font-size="9.8" fill="#000" stroke="#000" stroke-width="0.15" textLength="51.7" lengthAdjust="spacingAndGlyphs">27 Feb 2020</text>
<rect x="643" y="716" width="1" height="3" fill="#000"/>
<text x="642.5" y="729.0" font-size="9.8" fill="#000" stroke="#000" stroke-width="0.15" textLength="51.7" lengthAdjust="spacingAndGlyphs">17 Mar 2020</text>
<rect x="707" y="716" width="1" height="3" fill="#000"/>
<text x="706.5" y="729.0" font-size="9.8" fill="#000" stroke="#000" stroke-width="0.15" textLength="46.3" lengthAdjust="spacingAndGlyphs">4 Apr 2020</text>
<rect x="771" y="716" width="1" height="3" fill="#000"/>
<text x="770.5" y="729.0" font-size="9.8" fill="#000" stroke="#000" stroke-width="0.15" textLength="50.7" lengthAdjust="spacingAndGlyphs">23 Apr 2020</text>
<rect x="835" y="716" width="1" height="3" fill="#000"/>
<text x="834.5" y="729.0" font-size="9.8" fill="#000" stroke="#000" stroke-width="0.15" textLength="54.7" lengthAdjust="spacingAndGlyphs">12 May 2020</text>
<rect x="899" y="716" width="1" height="3" fill="#000"/>
<text x="898.5" y="729.0" font-size="9.8" fill="#000" stroke="#000" stroke-width="0.15" textLength="54.7" lengthAdjust="spacingAndGlyphs">30 May 2020</text>
<rect x="963" y="716" width="1" height="3" fill="#000"/>
<text x="962.5" y="729.0" font-size="9.8" fill="#000" stroke="#000" stroke-width="0.15" textLength="49.3" lengthAdjust="spacingAndGlyphs">18 Jun 2020</text>
<rect x="1027" y="716" width="1" height="3" fill="#000"/>
<text x="1026.5" y="729.0" font-size="9.8" fill="#000" stroke="#000" stroke-width="0.15" textLength="41.3" lengthAdjust="spacingAndGlyphs">7 Jul 2020</text>
<rect x="1091" y="716" width="1" height="3" fill="#000"/>
<text x="1090.5" y="729.0" font-size="9.8" fill="#000" stroke="#000" stroke-width="0.15" textLength="46.7" lengthAdjust="spacingAndGlyphs">25 Jul 2020</text>
<rect x="1155" y="716" width="1" height="3" fill="#000"/>
<text x="1154.5" y="729.0" font-size="9.8" fill="#000" stroke="#000" stroke-width="0.15" textLength="53.0" lengthAdjust="spacingAndGlyphs">13 Aug 2020</text>
<rect x="1219" y="716" width="1" height="3" fill="#000"/>
<text x="1218.5" y="729.0" font-size="9.8" fill="#000" stroke="#000" stroke-width="0.15" textLength="46.7" lengthAdjust="spacingAndGlyphs">1 Sep 2020</text>
</g>
<rect x="0" y="737" width="1639" height="1" fill="#e3e3e3"/>
<rect x="0" y="738" width="1639" height="1" fill="#fbfbfb"/>
<rect x="0" y="739" width="1638" height="20" fill="#f0f0f0"/>
<rect x="0" y="739" width="1639" height="1" fill="#000"/>
<rect x="0" y="740" width="1639" height="1" fill="#fafafa"/>
<rect x="108" y="738" width="100" height="20" fill="#fff"/>
<rect x="108" y="739" width="1" height="19" fill="#000"/>
<rect x="207" y="739" width="1" height="19" fill="#000"/>
<rect x="208" y="740" width="1" height="19" fill="#a8a8a8"/>
<rect x="108" y="757" width="100" height="1" fill="#000"/>
<rect x="109" y="758" width="100" height="1" fill="#a8a8a8"/>
<rect x="109" y="738" width="98" height="1" fill="#fff"/>
<rect x="109" y="739" width="98" height="1" fill="#fff"/>
<rect x="109" y="740" width="98" height="1" fill="#fff"/>
<g shape-rendering="auto">
<text x="16" y="753.8" font-size="12" fill="#808080" textLength="80.0" lengthAdjust="spacingAndGlyphs">EURUSD,Daily</text>
<text x="118.6" y="753.8" font-size="12" fill="#000" textLength="78.2" lengthAdjust="spacingAndGlyphs">USDCHF,Daily</text>
<text x="219" y="753.8" font-size="12" fill="#808080" textLength="82.0" lengthAdjust="spacingAndGlyphs">AUDUSD,Daily</text>
<text x="323" y="753.8" font-size="12" fill="#808080" textLength="81.0" lengthAdjust="spacingAndGlyphs">USDCAD,Daily</text>
<text x="426" y="753.8" font-size="12" fill="#808080" textLength="83.0" lengthAdjust="spacingAndGlyphs">USDCNH,Daily</text>
<text x="532" y="753.8" font-size="12" fill="#808080" textLength="80.0" lengthAdjust="spacingAndGlyphs">EURUSD,Daily</text>
<text x="636" y="753.8" font-size="12" fill="#808080" textLength="68.0" lengthAdjust="spacingAndGlyphs">GBPUSD,H4</text>
<text x="727" y="753.8" font-size="12" fill="#808080" textLength="68.0" lengthAdjust="spacingAndGlyphs">XAUUSD,H1</text>
<text x="819" y="753.8" font-size="12" fill="#808080" textLength="50.0" lengthAdjust="spacingAndGlyphs">HK50,H1</text>
<text x="891" y="753.8" font-size="12" fill="#808080" textLength="57.0" lengthAdjust="spacingAndGlyphs">UK100,H1</text>
<text x="971" y="753.8" font-size="12" fill="#808080" textLength="57.0" lengthAdjust="spacingAndGlyphs">UK100,H1</text>
<text x="1051" y="753.8" font-size="12" fill="#808080" textLength="57.0" lengthAdjust="spacingAndGlyphs">GER30,H1</text>
<text x="1130" y="753.8" font-size="12" fill="#808080" textLength="55.0" lengthAdjust="spacingAndGlyphs">FRA40,H1</text>
<text x="1206" y="753.8" font-size="12" fill="#808080" textLength="51.0" lengthAdjust="spacingAndGlyphs">USOil,H4</text>
<text x="1278" y="753.8" font-size="12" fill="#808080" textLength="63.0" lengthAdjust="spacingAndGlyphs">USDJPY,H1</text>
<text x="1362" y="753.8" font-size="12" fill="#808080" textLength="59.0" lengthAdjust="spacingAndGlyphs">DJ30,Daily</text>
<text x="1442" y="753.8" font-size="12" fill="#808080" textLength="79.0" lengthAdjust="spacingAndGlyphs">CHINA300,H1</text>
<text x="1542" y="753.8" font-size="12" fill="#808080" textLength="51.0" lengthAdjust="spacingAndGlyphs">USOil,H1</text>
<rect x="312" y="743" width="1" height="13" fill="#808080"/>
<rect x="417" y="743" width="1" height="13" fill="#808080"/>
<rect x="521" y="743" width="1" height="13" fill="#808080"/>
<rect x="624" y="743" width="1" height="13" fill="#808080"/>
<rect x="717" y="743" width="1" height="13" fill="#808080"/>
<rect x="809" y="743" width="1" height="13" fill="#808080"/>
<rect x="880" y="743" width="1" height="13" fill="#808080"/>
<rect x="960" y="743" width="1" height="13" fill="#808080"/>
<rect x="1040" y="743" width="1" height="13" fill="#808080"/>
<rect x="1121" y="743" width="1" height="13" fill="#808080"/>
<rect x="1197" y="743" width="1" height="13" fill="#808080"/>
<rect x="1268" y="743" width="1" height="13" fill="#808080"/>
<rect x="1353" y="743" width="1" height="13" fill="#808080"/>
<rect x="1432" y="743" width="1" height="13" fill="#808080"/>
<rect x="1533" y="743" width="1" height="13" fill="#808080"/>
<rect x="1604" y="743" width="1" height="13" fill="#808080"/>
<path d="M1616 746.5 L1616 752.5 L1613 749.5 Z" fill="#a0a0a0"/><path d="M1629 746 L1629 753 L1633 749.5 Z" fill="#000"/>
</g>
</svg></body></html>
